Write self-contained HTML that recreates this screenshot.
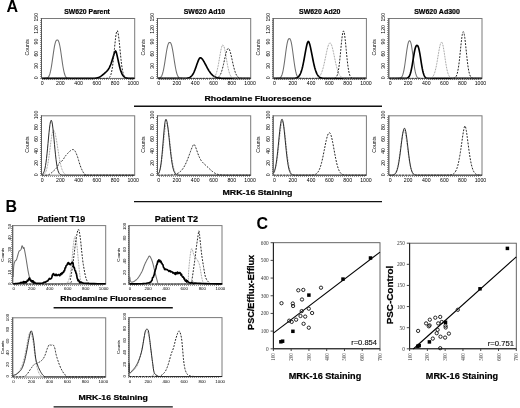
<!DOCTYPE html>
<html><head><meta charset="utf-8"><style>
html,body{margin:0;padding:0;background:#fff;width:520px;height:408px;overflow:hidden}
svg{position:absolute;left:0;top:0;font-family:"Liberation Sans", sans-serif;will-change:transform}
</style></head><body>
<svg width="520" height="408" viewBox="0 0 520 408">
<text x="12.20" y="12.40" font-size="16" font-weight="bold" text-anchor="middle" fill="#000">A</text>
<text x="11.30" y="212.00" font-size="16" font-weight="bold" text-anchor="middle" fill="#000">B</text>
<text x="262.40" y="228.90" font-size="16" font-weight="bold" text-anchor="middle" fill="#000">C</text>
<rect x="41.50" y="18.50" width="93.20" height="59.90" fill="none" stroke="#7a7a7a" stroke-width="1.0"/>
<line x1="41.50" y1="18.00" x2="41.50" y2="78.40" stroke="#555" stroke-width="0.9"/>
<line x1="40.50" y1="79.00" x2="40.50" y2="18.50" stroke="#333" stroke-width="1.0" stroke-dasharray="1 1" opacity="0.5"/>
<line x1="42.00" y1="79.50" x2="133.20" y2="79.50" stroke="#333" stroke-width="1" stroke-dasharray="1 1" opacity="0.5"/>
<text x="35.90" y="77.90" font-size="5.2" font-weight="normal" text-anchor="middle" fill="#000" transform="rotate(-90 35.9 77.9)" dominant-baseline="central">0</text>
<text x="35.90" y="65.76" font-size="5.2" font-weight="normal" text-anchor="middle" fill="#000" transform="rotate(-90 35.9 65.76)" dominant-baseline="central">30</text>
<text x="35.90" y="53.62" font-size="5.2" font-weight="normal" text-anchor="middle" fill="#000" transform="rotate(-90 35.9 53.620000000000005)" dominant-baseline="central">60</text>
<text x="35.90" y="41.48" font-size="5.2" font-weight="normal" text-anchor="middle" fill="#000" transform="rotate(-90 35.9 41.480000000000004)" dominant-baseline="central">90</text>
<text x="35.90" y="29.34" font-size="5.2" font-weight="normal" text-anchor="middle" fill="#000" transform="rotate(-90 35.9 29.340000000000003)" dominant-baseline="central">120</text>
<text x="35.90" y="17.20" font-size="5.2" font-weight="normal" text-anchor="middle" fill="#000" transform="rotate(-90 35.9 17.200000000000003)" dominant-baseline="central">150</text>
<text x="42.20" y="82.90" font-size="5.2" font-weight="normal" text-anchor="middle" fill="#000" dominant-baseline="central">0</text>
<text x="60.40" y="82.90" font-size="5.2" font-weight="normal" text-anchor="middle" fill="#000" dominant-baseline="central">200</text>
<text x="78.60" y="82.90" font-size="5.2" font-weight="normal" text-anchor="middle" fill="#000" dominant-baseline="central">400</text>
<text x="96.80" y="82.90" font-size="5.2" font-weight="normal" text-anchor="middle" fill="#000" dominant-baseline="central">600</text>
<text x="115.00" y="82.90" font-size="5.2" font-weight="normal" text-anchor="middle" fill="#000" dominant-baseline="central">800</text>
<text x="133.20" y="82.90" font-size="5.2" font-weight="normal" text-anchor="middle" fill="#000" dominant-baseline="central">1000</text>
<text x="26.50" y="47.25" font-size="5.2" font-weight="normal" text-anchor="middle" fill="#000" transform="rotate(-90 26.5 47.25)" dominant-baseline="central">Counts</text>
<text x="87.05" y="13.80" font-size="7" font-weight="bold" text-anchor="middle" fill="#000" textLength="45.7" lengthAdjust="spacingAndGlyphs" stroke="#000" stroke-width="0.22">SW620 Parent</text>
<rect x="41.50" y="115.80" width="93.20" height="59.40" fill="none" stroke="#7a7a7a" stroke-width="1.0"/>
<line x1="41.50" y1="115.30" x2="41.50" y2="175.20" stroke="#555" stroke-width="0.9"/>
<line x1="40.50" y1="176.00" x2="40.50" y2="115.80" stroke="#333" stroke-width="1.0" stroke-dasharray="1 1" opacity="0.5"/>
<line x1="42.00" y1="176.50" x2="133.20" y2="176.50" stroke="#333" stroke-width="1" stroke-dasharray="1 1" opacity="0.5"/>
<text x="35.90" y="174.90" font-size="5.2" font-weight="normal" text-anchor="middle" fill="#000" transform="rotate(-90 35.9 174.9)" dominant-baseline="central">0</text>
<text x="35.90" y="162.92" font-size="5.2" font-weight="normal" text-anchor="middle" fill="#000" transform="rotate(-90 35.9 162.92000000000002)" dominant-baseline="central">20</text>
<text x="35.90" y="150.94" font-size="5.2" font-weight="normal" text-anchor="middle" fill="#000" transform="rotate(-90 35.9 150.94)" dominant-baseline="central">40</text>
<text x="35.90" y="138.96" font-size="5.2" font-weight="normal" text-anchor="middle" fill="#000" transform="rotate(-90 35.9 138.96)" dominant-baseline="central">60</text>
<text x="35.90" y="126.98" font-size="5.2" font-weight="normal" text-anchor="middle" fill="#000" transform="rotate(-90 35.9 126.98)" dominant-baseline="central">80</text>
<text x="35.90" y="115.00" font-size="5.2" font-weight="normal" text-anchor="middle" fill="#000" transform="rotate(-90 35.9 115.0)" dominant-baseline="central">100</text>
<text x="42.20" y="179.70" font-size="5.2" font-weight="normal" text-anchor="middle" fill="#000" dominant-baseline="central">0</text>
<text x="60.40" y="179.70" font-size="5.2" font-weight="normal" text-anchor="middle" fill="#000" dominant-baseline="central">200</text>
<text x="78.60" y="179.70" font-size="5.2" font-weight="normal" text-anchor="middle" fill="#000" dominant-baseline="central">400</text>
<text x="96.80" y="179.70" font-size="5.2" font-weight="normal" text-anchor="middle" fill="#000" dominant-baseline="central">600</text>
<text x="115.00" y="179.70" font-size="5.2" font-weight="normal" text-anchor="middle" fill="#000" dominant-baseline="central">800</text>
<text x="133.20" y="179.70" font-size="5.2" font-weight="normal" text-anchor="middle" fill="#000" dominant-baseline="central">1000</text>
<text x="26.50" y="144.50" font-size="5.2" font-weight="normal" text-anchor="middle" fill="#000" transform="rotate(-90 26.5 144.5)" dominant-baseline="central">Counts</text>
<rect x="157.50" y="18.50" width="93.20" height="59.90" fill="none" stroke="#7a7a7a" stroke-width="1.0"/>
<line x1="157.50" y1="18.00" x2="157.50" y2="78.40" stroke="#555" stroke-width="0.9"/>
<line x1="156.50" y1="79.00" x2="156.50" y2="18.50" stroke="#333" stroke-width="1.0" stroke-dasharray="1 1" opacity="0.5"/>
<line x1="159.00" y1="79.50" x2="250.10" y2="79.50" stroke="#333" stroke-width="1" stroke-dasharray="1 1" opacity="0.5"/>
<text x="151.90" y="77.90" font-size="5.2" font-weight="normal" text-anchor="middle" fill="#000" transform="rotate(-90 151.9 77.9)" dominant-baseline="central">0</text>
<text x="151.90" y="65.76" font-size="5.2" font-weight="normal" text-anchor="middle" fill="#000" transform="rotate(-90 151.9 65.76)" dominant-baseline="central">30</text>
<text x="151.90" y="53.62" font-size="5.2" font-weight="normal" text-anchor="middle" fill="#000" transform="rotate(-90 151.9 53.620000000000005)" dominant-baseline="central">60</text>
<text x="151.90" y="41.48" font-size="5.2" font-weight="normal" text-anchor="middle" fill="#000" transform="rotate(-90 151.9 41.480000000000004)" dominant-baseline="central">90</text>
<text x="151.90" y="29.34" font-size="5.2" font-weight="normal" text-anchor="middle" fill="#000" transform="rotate(-90 151.9 29.340000000000003)" dominant-baseline="central">120</text>
<text x="151.90" y="17.20" font-size="5.2" font-weight="normal" text-anchor="middle" fill="#000" transform="rotate(-90 151.9 17.200000000000003)" dominant-baseline="central">150</text>
<text x="158.60" y="82.90" font-size="5.2" font-weight="normal" text-anchor="middle" fill="#000" dominant-baseline="central">0</text>
<text x="176.90" y="82.90" font-size="5.2" font-weight="normal" text-anchor="middle" fill="#000" dominant-baseline="central">200</text>
<text x="195.20" y="82.90" font-size="5.2" font-weight="normal" text-anchor="middle" fill="#000" dominant-baseline="central">400</text>
<text x="213.50" y="82.90" font-size="5.2" font-weight="normal" text-anchor="middle" fill="#000" dominant-baseline="central">600</text>
<text x="231.80" y="82.90" font-size="5.2" font-weight="normal" text-anchor="middle" fill="#000" dominant-baseline="central">800</text>
<text x="250.10" y="82.90" font-size="5.2" font-weight="normal" text-anchor="middle" fill="#000" dominant-baseline="central">1000</text>
<text x="142.50" y="47.25" font-size="5.2" font-weight="normal" text-anchor="middle" fill="#000" transform="rotate(-90 142.5 47.25)" dominant-baseline="central">Counts</text>
<text x="204.45" y="13.80" font-size="7" font-weight="bold" text-anchor="middle" fill="#000" textLength="41.5" lengthAdjust="spacingAndGlyphs" stroke="#000" stroke-width="0.22">SW620 Ad10</text>
<rect x="157.50" y="115.80" width="93.20" height="59.40" fill="none" stroke="#7a7a7a" stroke-width="1.0"/>
<line x1="157.50" y1="115.30" x2="157.50" y2="175.20" stroke="#555" stroke-width="0.9"/>
<line x1="156.50" y1="176.00" x2="156.50" y2="115.80" stroke="#333" stroke-width="1.0" stroke-dasharray="1 1" opacity="0.5"/>
<line x1="159.00" y1="176.50" x2="250.10" y2="176.50" stroke="#333" stroke-width="1" stroke-dasharray="1 1" opacity="0.5"/>
<text x="151.90" y="174.90" font-size="5.2" font-weight="normal" text-anchor="middle" fill="#000" transform="rotate(-90 151.9 174.9)" dominant-baseline="central">0</text>
<text x="151.90" y="162.92" font-size="5.2" font-weight="normal" text-anchor="middle" fill="#000" transform="rotate(-90 151.9 162.92000000000002)" dominant-baseline="central">20</text>
<text x="151.90" y="150.94" font-size="5.2" font-weight="normal" text-anchor="middle" fill="#000" transform="rotate(-90 151.9 150.94)" dominant-baseline="central">40</text>
<text x="151.90" y="138.96" font-size="5.2" font-weight="normal" text-anchor="middle" fill="#000" transform="rotate(-90 151.9 138.96)" dominant-baseline="central">60</text>
<text x="151.90" y="126.98" font-size="5.2" font-weight="normal" text-anchor="middle" fill="#000" transform="rotate(-90 151.9 126.98)" dominant-baseline="central">80</text>
<text x="151.90" y="115.00" font-size="5.2" font-weight="normal" text-anchor="middle" fill="#000" transform="rotate(-90 151.9 115.0)" dominant-baseline="central">100</text>
<text x="158.60" y="179.70" font-size="5.2" font-weight="normal" text-anchor="middle" fill="#000" dominant-baseline="central">0</text>
<text x="176.90" y="179.70" font-size="5.2" font-weight="normal" text-anchor="middle" fill="#000" dominant-baseline="central">200</text>
<text x="195.20" y="179.70" font-size="5.2" font-weight="normal" text-anchor="middle" fill="#000" dominant-baseline="central">400</text>
<text x="213.50" y="179.70" font-size="5.2" font-weight="normal" text-anchor="middle" fill="#000" dominant-baseline="central">600</text>
<text x="231.80" y="179.70" font-size="5.2" font-weight="normal" text-anchor="middle" fill="#000" dominant-baseline="central">800</text>
<text x="250.10" y="179.70" font-size="5.2" font-weight="normal" text-anchor="middle" fill="#000" dominant-baseline="central">1000</text>
<text x="142.50" y="144.50" font-size="5.2" font-weight="normal" text-anchor="middle" fill="#000" transform="rotate(-90 142.5 144.5)" dominant-baseline="central">Counts</text>
<rect x="273.20" y="18.50" width="93.20" height="59.90" fill="none" stroke="#7a7a7a" stroke-width="1.0"/>
<line x1="273.20" y1="18.00" x2="273.20" y2="78.40" stroke="#555" stroke-width="0.9"/>
<line x1="272.50" y1="79.00" x2="272.50" y2="18.50" stroke="#333" stroke-width="1.0" stroke-dasharray="1 1" opacity="0.5"/>
<line x1="274.00" y1="79.50" x2="366.00" y2="79.50" stroke="#333" stroke-width="1" stroke-dasharray="1 1" opacity="0.5"/>
<text x="267.60" y="77.90" font-size="5.2" font-weight="normal" text-anchor="middle" fill="#000" transform="rotate(-90 267.59999999999997 77.9)" dominant-baseline="central">0</text>
<text x="267.60" y="65.76" font-size="5.2" font-weight="normal" text-anchor="middle" fill="#000" transform="rotate(-90 267.59999999999997 65.76)" dominant-baseline="central">30</text>
<text x="267.60" y="53.62" font-size="5.2" font-weight="normal" text-anchor="middle" fill="#000" transform="rotate(-90 267.59999999999997 53.620000000000005)" dominant-baseline="central">60</text>
<text x="267.60" y="41.48" font-size="5.2" font-weight="normal" text-anchor="middle" fill="#000" transform="rotate(-90 267.59999999999997 41.480000000000004)" dominant-baseline="central">90</text>
<text x="267.60" y="29.34" font-size="5.2" font-weight="normal" text-anchor="middle" fill="#000" transform="rotate(-90 267.59999999999997 29.340000000000003)" dominant-baseline="central">120</text>
<text x="267.60" y="17.20" font-size="5.2" font-weight="normal" text-anchor="middle" fill="#000" transform="rotate(-90 267.59999999999997 17.200000000000003)" dominant-baseline="central">150</text>
<text x="274.50" y="82.90" font-size="5.2" font-weight="normal" text-anchor="middle" fill="#000" dominant-baseline="central">0</text>
<text x="292.80" y="82.90" font-size="5.2" font-weight="normal" text-anchor="middle" fill="#000" dominant-baseline="central">200</text>
<text x="311.10" y="82.90" font-size="5.2" font-weight="normal" text-anchor="middle" fill="#000" dominant-baseline="central">400</text>
<text x="329.40" y="82.90" font-size="5.2" font-weight="normal" text-anchor="middle" fill="#000" dominant-baseline="central">600</text>
<text x="347.70" y="82.90" font-size="5.2" font-weight="normal" text-anchor="middle" fill="#000" dominant-baseline="central">800</text>
<text x="366.00" y="82.90" font-size="5.2" font-weight="normal" text-anchor="middle" fill="#000" dominant-baseline="central">1000</text>
<text x="258.20" y="47.25" font-size="5.2" font-weight="normal" text-anchor="middle" fill="#000" transform="rotate(-90 258.2 47.25)" dominant-baseline="central">Counts</text>
<text x="319.75" y="13.80" font-size="7" font-weight="bold" text-anchor="middle" fill="#000" textLength="41.5" lengthAdjust="spacingAndGlyphs" stroke="#000" stroke-width="0.22">SW620 Ad20</text>
<rect x="273.20" y="115.80" width="93.20" height="59.40" fill="none" stroke="#7a7a7a" stroke-width="1.0"/>
<line x1="273.20" y1="115.30" x2="273.20" y2="175.20" stroke="#555" stroke-width="0.9"/>
<line x1="272.50" y1="176.00" x2="272.50" y2="115.80" stroke="#333" stroke-width="1.0" stroke-dasharray="1 1" opacity="0.5"/>
<line x1="274.00" y1="176.50" x2="366.00" y2="176.50" stroke="#333" stroke-width="1" stroke-dasharray="1 1" opacity="0.5"/>
<text x="267.60" y="174.90" font-size="5.2" font-weight="normal" text-anchor="middle" fill="#000" transform="rotate(-90 267.59999999999997 174.9)" dominant-baseline="central">0</text>
<text x="267.60" y="162.92" font-size="5.2" font-weight="normal" text-anchor="middle" fill="#000" transform="rotate(-90 267.59999999999997 162.92000000000002)" dominant-baseline="central">20</text>
<text x="267.60" y="150.94" font-size="5.2" font-weight="normal" text-anchor="middle" fill="#000" transform="rotate(-90 267.59999999999997 150.94)" dominant-baseline="central">40</text>
<text x="267.60" y="138.96" font-size="5.2" font-weight="normal" text-anchor="middle" fill="#000" transform="rotate(-90 267.59999999999997 138.96)" dominant-baseline="central">60</text>
<text x="267.60" y="126.98" font-size="5.2" font-weight="normal" text-anchor="middle" fill="#000" transform="rotate(-90 267.59999999999997 126.98)" dominant-baseline="central">80</text>
<text x="267.60" y="115.00" font-size="5.2" font-weight="normal" text-anchor="middle" fill="#000" transform="rotate(-90 267.59999999999997 115.0)" dominant-baseline="central">100</text>
<text x="274.50" y="179.70" font-size="5.2" font-weight="normal" text-anchor="middle" fill="#000" dominant-baseline="central">0</text>
<text x="292.80" y="179.70" font-size="5.2" font-weight="normal" text-anchor="middle" fill="#000" dominant-baseline="central">200</text>
<text x="311.10" y="179.70" font-size="5.2" font-weight="normal" text-anchor="middle" fill="#000" dominant-baseline="central">400</text>
<text x="329.40" y="179.70" font-size="5.2" font-weight="normal" text-anchor="middle" fill="#000" dominant-baseline="central">600</text>
<text x="347.70" y="179.70" font-size="5.2" font-weight="normal" text-anchor="middle" fill="#000" dominant-baseline="central">800</text>
<text x="366.00" y="179.70" font-size="5.2" font-weight="normal" text-anchor="middle" fill="#000" dominant-baseline="central">1000</text>
<text x="258.20" y="144.50" font-size="5.2" font-weight="normal" text-anchor="middle" fill="#000" transform="rotate(-90 258.2 144.5)" dominant-baseline="central">Counts</text>
<rect x="388.80" y="18.50" width="93.20" height="59.90" fill="none" stroke="#7a7a7a" stroke-width="1.0"/>
<line x1="388.80" y1="18.00" x2="388.80" y2="78.40" stroke="#555" stroke-width="0.9"/>
<line x1="387.50" y1="79.00" x2="387.50" y2="18.50" stroke="#333" stroke-width="1.0" stroke-dasharray="1 1" opacity="0.5"/>
<line x1="390.00" y1="79.50" x2="480.50" y2="79.50" stroke="#333" stroke-width="1" stroke-dasharray="1 1" opacity="0.5"/>
<text x="383.20" y="77.90" font-size="5.2" font-weight="normal" text-anchor="middle" fill="#000" transform="rotate(-90 383.2 77.9)" dominant-baseline="central">0</text>
<text x="383.20" y="65.76" font-size="5.2" font-weight="normal" text-anchor="middle" fill="#000" transform="rotate(-90 383.2 65.76)" dominant-baseline="central">30</text>
<text x="383.20" y="53.62" font-size="5.2" font-weight="normal" text-anchor="middle" fill="#000" transform="rotate(-90 383.2 53.620000000000005)" dominant-baseline="central">60</text>
<text x="383.20" y="41.48" font-size="5.2" font-weight="normal" text-anchor="middle" fill="#000" transform="rotate(-90 383.2 41.480000000000004)" dominant-baseline="central">90</text>
<text x="383.20" y="29.34" font-size="5.2" font-weight="normal" text-anchor="middle" fill="#000" transform="rotate(-90 383.2 29.340000000000003)" dominant-baseline="central">120</text>
<text x="383.20" y="17.20" font-size="5.2" font-weight="normal" text-anchor="middle" fill="#000" transform="rotate(-90 383.2 17.200000000000003)" dominant-baseline="central">150</text>
<text x="390.10" y="82.90" font-size="5.2" font-weight="normal" text-anchor="middle" fill="#000" dominant-baseline="central">0</text>
<text x="408.18" y="82.90" font-size="5.2" font-weight="normal" text-anchor="middle" fill="#000" dominant-baseline="central">200</text>
<text x="426.26" y="82.90" font-size="5.2" font-weight="normal" text-anchor="middle" fill="#000" dominant-baseline="central">400</text>
<text x="444.34" y="82.90" font-size="5.2" font-weight="normal" text-anchor="middle" fill="#000" dominant-baseline="central">600</text>
<text x="462.42" y="82.90" font-size="5.2" font-weight="normal" text-anchor="middle" fill="#000" dominant-baseline="central">800</text>
<text x="480.50" y="82.90" font-size="5.2" font-weight="normal" text-anchor="middle" fill="#000" dominant-baseline="central">1000</text>
<text x="373.80" y="47.25" font-size="5.2" font-weight="normal" text-anchor="middle" fill="#000" transform="rotate(-90 373.8 47.25)" dominant-baseline="central">Counts</text>
<text x="437.05" y="13.80" font-size="7" font-weight="bold" text-anchor="middle" fill="#000" textLength="45.7" lengthAdjust="spacingAndGlyphs" stroke="#000" stroke-width="0.22">SW620 Ad300</text>
<rect x="388.80" y="115.80" width="93.20" height="59.40" fill="none" stroke="#7a7a7a" stroke-width="1.0"/>
<line x1="388.80" y1="115.30" x2="388.80" y2="175.20" stroke="#555" stroke-width="0.9"/>
<line x1="387.50" y1="176.00" x2="387.50" y2="115.80" stroke="#333" stroke-width="1.0" stroke-dasharray="1 1" opacity="0.5"/>
<line x1="390.00" y1="176.50" x2="480.50" y2="176.50" stroke="#333" stroke-width="1" stroke-dasharray="1 1" opacity="0.5"/>
<text x="383.20" y="174.90" font-size="5.2" font-weight="normal" text-anchor="middle" fill="#000" transform="rotate(-90 383.2 174.9)" dominant-baseline="central">0</text>
<text x="383.20" y="162.92" font-size="5.2" font-weight="normal" text-anchor="middle" fill="#000" transform="rotate(-90 383.2 162.92000000000002)" dominant-baseline="central">20</text>
<text x="383.20" y="150.94" font-size="5.2" font-weight="normal" text-anchor="middle" fill="#000" transform="rotate(-90 383.2 150.94)" dominant-baseline="central">40</text>
<text x="383.20" y="138.96" font-size="5.2" font-weight="normal" text-anchor="middle" fill="#000" transform="rotate(-90 383.2 138.96)" dominant-baseline="central">60</text>
<text x="383.20" y="126.98" font-size="5.2" font-weight="normal" text-anchor="middle" fill="#000" transform="rotate(-90 383.2 126.98)" dominant-baseline="central">80</text>
<text x="383.20" y="115.00" font-size="5.2" font-weight="normal" text-anchor="middle" fill="#000" transform="rotate(-90 383.2 115.0)" dominant-baseline="central">100</text>
<text x="390.10" y="179.70" font-size="5.2" font-weight="normal" text-anchor="middle" fill="#000" dominant-baseline="central">0</text>
<text x="408.18" y="179.70" font-size="5.2" font-weight="normal" text-anchor="middle" fill="#000" dominant-baseline="central">200</text>
<text x="426.26" y="179.70" font-size="5.2" font-weight="normal" text-anchor="middle" fill="#000" dominant-baseline="central">400</text>
<text x="444.34" y="179.70" font-size="5.2" font-weight="normal" text-anchor="middle" fill="#000" dominant-baseline="central">600</text>
<text x="462.42" y="179.70" font-size="5.2" font-weight="normal" text-anchor="middle" fill="#000" dominant-baseline="central">800</text>
<text x="480.50" y="179.70" font-size="5.2" font-weight="normal" text-anchor="middle" fill="#000" dominant-baseline="central">1000</text>
<text x="373.80" y="144.50" font-size="5.2" font-weight="normal" text-anchor="middle" fill="#000" transform="rotate(-90 373.8 144.5)" dominant-baseline="central">Counts</text>
<text x="258.00" y="100.90" font-size="7.7" font-weight="bold" text-anchor="middle" fill="#000" textLength="107" lengthAdjust="spacingAndGlyphs" stroke="#000" stroke-width="0.22">Rhodamine Fluorescence</text>
<line x1="134.00" y1="106.20" x2="382.00" y2="106.20" stroke="#111" stroke-width="1.4"/>
<text x="257.50" y="195.40" font-size="7.8" font-weight="bold" text-anchor="middle" fill="#000" textLength="70" lengthAdjust="spacingAndGlyphs" stroke="#000" stroke-width="0.22">MRK-16 Staining</text>
<line x1="134.00" y1="201.60" x2="382.00" y2="201.60" stroke="#111" stroke-width="1.3"/>
<rect x="12.70" y="225.60" width="93.00" height="58.40" fill="none" stroke="#7a7a7a" stroke-width="1.0"/>
<line x1="12.70" y1="225.10" x2="12.70" y2="284.00" stroke="#555" stroke-width="0.9"/>
<line x1="11.50" y1="285.00" x2="11.50" y2="225.60" stroke="#333" stroke-width="1.0" stroke-dasharray="1 1" opacity="0.5"/>
<line x1="14.00" y1="285.50" x2="103.70" y2="285.50" stroke="#333" stroke-width="1" stroke-dasharray="1 1" opacity="0.5"/>
<text x="9.10" y="283.80" font-size="4.4" font-weight="normal" text-anchor="middle" fill="#000" transform="rotate(-90 9.1 283.8)" dominant-baseline="central">0</text>
<text x="9.10" y="272.28" font-size="4.4" font-weight="normal" text-anchor="middle" fill="#000" transform="rotate(-90 9.1 272.28000000000003)" dominant-baseline="central">10</text>
<text x="9.10" y="260.76" font-size="4.4" font-weight="normal" text-anchor="middle" fill="#000" transform="rotate(-90 9.1 260.76)" dominant-baseline="central">20</text>
<text x="9.10" y="249.24" font-size="4.4" font-weight="normal" text-anchor="middle" fill="#000" transform="rotate(-90 9.1 249.24)" dominant-baseline="central">30</text>
<text x="9.10" y="237.72" font-size="4.4" font-weight="normal" text-anchor="middle" fill="#000" transform="rotate(-90 9.1 237.72)" dominant-baseline="central">40</text>
<text x="9.10" y="226.20" font-size="4.4" font-weight="normal" text-anchor="middle" fill="#000" transform="rotate(-90 9.1 226.2)" dominant-baseline="central">50</text>
<text x="13.70" y="288.60" font-size="4.4" font-weight="normal" text-anchor="middle" fill="#000" dominant-baseline="central">0</text>
<text x="31.70" y="288.60" font-size="4.4" font-weight="normal" text-anchor="middle" fill="#000" dominant-baseline="central">200</text>
<text x="49.70" y="288.60" font-size="4.4" font-weight="normal" text-anchor="middle" fill="#000" dominant-baseline="central">400</text>
<text x="67.70" y="288.60" font-size="4.4" font-weight="normal" text-anchor="middle" fill="#000" dominant-baseline="central">600</text>
<text x="85.70" y="288.60" font-size="4.4" font-weight="normal" text-anchor="middle" fill="#000" dominant-baseline="central">800</text>
<text x="103.70" y="288.60" font-size="4.4" font-weight="normal" text-anchor="middle" fill="#000" dominant-baseline="central">1000</text>
<text x="2.40" y="254.80" font-size="4.4" font-weight="normal" text-anchor="middle" fill="#000" transform="rotate(-90 2.3999999999999986 254.8)" dominant-baseline="central">Counts</text>
<rect x="129.00" y="225.60" width="93.00" height="58.40" fill="none" stroke="#7a7a7a" stroke-width="1.0"/>
<line x1="129.00" y1="225.10" x2="129.00" y2="284.00" stroke="#555" stroke-width="0.9"/>
<line x1="128.50" y1="285.00" x2="128.50" y2="225.60" stroke="#333" stroke-width="1.0" stroke-dasharray="1 1" opacity="0.5"/>
<line x1="130.00" y1="285.50" x2="220.40" y2="285.50" stroke="#333" stroke-width="1" stroke-dasharray="1 1" opacity="0.5"/>
<text x="124.80" y="284.00" font-size="4.4" font-weight="normal" text-anchor="middle" fill="#000" transform="rotate(-90 124.8 284.0)" dominant-baseline="central">0</text>
<text x="124.80" y="272.48" font-size="4.4" font-weight="normal" text-anchor="middle" fill="#000" transform="rotate(-90 124.8 272.48)" dominant-baseline="central">20</text>
<text x="124.80" y="260.96" font-size="4.4" font-weight="normal" text-anchor="middle" fill="#000" transform="rotate(-90 124.8 260.96)" dominant-baseline="central">40</text>
<text x="124.80" y="249.44" font-size="4.4" font-weight="normal" text-anchor="middle" fill="#000" transform="rotate(-90 124.8 249.44)" dominant-baseline="central">60</text>
<text x="124.80" y="237.92" font-size="4.4" font-weight="normal" text-anchor="middle" fill="#000" transform="rotate(-90 124.8 237.92000000000002)" dominant-baseline="central">80</text>
<text x="124.80" y="226.40" font-size="4.4" font-weight="normal" text-anchor="middle" fill="#000" transform="rotate(-90 124.8 226.4)" dominant-baseline="central">100</text>
<text x="130.00" y="288.60" font-size="4.4" font-weight="normal" text-anchor="middle" fill="#000" dominant-baseline="central">0</text>
<text x="148.08" y="288.60" font-size="4.4" font-weight="normal" text-anchor="middle" fill="#000" dominant-baseline="central">200</text>
<text x="166.16" y="288.60" font-size="4.4" font-weight="normal" text-anchor="middle" fill="#000" dominant-baseline="central">400</text>
<text x="184.24" y="288.60" font-size="4.4" font-weight="normal" text-anchor="middle" fill="#000" dominant-baseline="central">600</text>
<text x="202.32" y="288.60" font-size="4.4" font-weight="normal" text-anchor="middle" fill="#000" dominant-baseline="central">800</text>
<text x="220.40" y="288.60" font-size="4.4" font-weight="normal" text-anchor="middle" fill="#000" dominant-baseline="central">1000</text>
<text x="118.70" y="254.80" font-size="4.4" font-weight="normal" text-anchor="middle" fill="#000" transform="rotate(-90 118.7 254.8)" dominant-baseline="central">Counts</text>
<text x="61.30" y="222.40" font-size="9.3" font-weight="bold" text-anchor="middle" fill="#000" textLength="47.8" lengthAdjust="spacingAndGlyphs" stroke="#000" stroke-width="0.22">Patient T19</text>
<text x="176.40" y="222.40" font-size="9.3" font-weight="bold" text-anchor="middle" fill="#000" textLength="43.1" lengthAdjust="spacingAndGlyphs" stroke="#000" stroke-width="0.22">Patient T2</text>
<text x="113.20" y="300.90" font-size="7.9" font-weight="bold" text-anchor="middle" fill="#000" textLength="106.1" lengthAdjust="spacingAndGlyphs" stroke="#000" stroke-width="0.22">Rhodamine Fluorescence</text>
<line x1="53.60" y1="307.70" x2="172.80" y2="307.70" stroke="#111" stroke-width="1.4"/>
<rect x="12.70" y="317.80" width="93.00" height="59.20" fill="none" stroke="#7a7a7a" stroke-width="1.0"/>
<line x1="12.70" y1="317.30" x2="12.70" y2="377.00" stroke="#555" stroke-width="0.9"/>
<line x1="11.50" y1="378.00" x2="11.50" y2="317.80" stroke="#333" stroke-width="1.0" stroke-dasharray="1 1" opacity="0.5"/>
<line x1="14.00" y1="378.50" x2="103.30" y2="378.50" stroke="#333" stroke-width="1" stroke-dasharray="1 1" opacity="0.5"/>
<text x="7.10" y="376.30" font-size="4.4" font-weight="normal" text-anchor="middle" fill="#000" transform="rotate(-90 7.1 376.3)" dominant-baseline="central">0</text>
<text x="7.10" y="364.54" font-size="4.4" font-weight="normal" text-anchor="middle" fill="#000" transform="rotate(-90 7.1 364.54)" dominant-baseline="central">20</text>
<text x="7.10" y="352.78" font-size="4.4" font-weight="normal" text-anchor="middle" fill="#000" transform="rotate(-90 7.1 352.78000000000003)" dominant-baseline="central">40</text>
<text x="7.10" y="341.02" font-size="4.4" font-weight="normal" text-anchor="middle" fill="#000" transform="rotate(-90 7.1 341.02)" dominant-baseline="central">60</text>
<text x="7.10" y="329.26" font-size="4.4" font-weight="normal" text-anchor="middle" fill="#000" transform="rotate(-90 7.1 329.26)" dominant-baseline="central">80</text>
<text x="7.10" y="317.50" font-size="4.4" font-weight="normal" text-anchor="middle" fill="#000" transform="rotate(-90 7.1 317.5)" dominant-baseline="central">100</text>
<text x="13.50" y="381.60" font-size="4.4" font-weight="normal" text-anchor="middle" fill="#000" dominant-baseline="central">0</text>
<text x="31.46" y="381.60" font-size="4.4" font-weight="normal" text-anchor="middle" fill="#000" dominant-baseline="central">200</text>
<text x="49.42" y="381.60" font-size="4.4" font-weight="normal" text-anchor="middle" fill="#000" dominant-baseline="central">400</text>
<text x="67.38" y="381.60" font-size="4.4" font-weight="normal" text-anchor="middle" fill="#000" dominant-baseline="central">600</text>
<text x="85.34" y="381.60" font-size="4.4" font-weight="normal" text-anchor="middle" fill="#000" dominant-baseline="central">800</text>
<text x="103.30" y="381.60" font-size="4.4" font-weight="normal" text-anchor="middle" fill="#000" dominant-baseline="central">1000</text>
<text x="2.40" y="347.40" font-size="4.4" font-weight="normal" text-anchor="middle" fill="#000" transform="rotate(-90 2.3999999999999986 347.4)" dominant-baseline="central">Counts</text>
<rect x="129.00" y="317.60" width="93.00" height="59.00" fill="none" stroke="#7a7a7a" stroke-width="1.0"/>
<line x1="129.00" y1="317.10" x2="129.00" y2="376.60" stroke="#555" stroke-width="0.9"/>
<line x1="128.50" y1="378.00" x2="128.50" y2="317.60" stroke="#333" stroke-width="1.0" stroke-dasharray="1 1" opacity="0.5"/>
<line x1="130.00" y1="377.50" x2="220.20" y2="377.50" stroke="#333" stroke-width="1" stroke-dasharray="1 1" opacity="0.5"/>
<text x="124.40" y="376.20" font-size="4.4" font-weight="normal" text-anchor="middle" fill="#000" transform="rotate(-90 124.4 376.2)" dominant-baseline="central">0</text>
<text x="124.40" y="364.26" font-size="4.4" font-weight="normal" text-anchor="middle" fill="#000" transform="rotate(-90 124.4 364.26)" dominant-baseline="central">20</text>
<text x="124.40" y="352.32" font-size="4.4" font-weight="normal" text-anchor="middle" fill="#000" transform="rotate(-90 124.4 352.32)" dominant-baseline="central">40</text>
<text x="124.40" y="340.38" font-size="4.4" font-weight="normal" text-anchor="middle" fill="#000" transform="rotate(-90 124.4 340.38)" dominant-baseline="central">60</text>
<text x="124.40" y="328.44" font-size="4.4" font-weight="normal" text-anchor="middle" fill="#000" transform="rotate(-90 124.4 328.44)" dominant-baseline="central">80</text>
<text x="124.40" y="316.50" font-size="4.4" font-weight="normal" text-anchor="middle" fill="#000" transform="rotate(-90 124.4 316.5)" dominant-baseline="central">100</text>
<text x="130.00" y="381.20" font-size="4.4" font-weight="normal" text-anchor="middle" fill="#000" dominant-baseline="central">0</text>
<text x="148.04" y="381.20" font-size="4.4" font-weight="normal" text-anchor="middle" fill="#000" dominant-baseline="central">200</text>
<text x="166.08" y="381.20" font-size="4.4" font-weight="normal" text-anchor="middle" fill="#000" dominant-baseline="central">400</text>
<text x="184.12" y="381.20" font-size="4.4" font-weight="normal" text-anchor="middle" fill="#000" dominant-baseline="central">600</text>
<text x="202.16" y="381.20" font-size="4.4" font-weight="normal" text-anchor="middle" fill="#000" dominant-baseline="central">800</text>
<text x="220.20" y="381.20" font-size="4.4" font-weight="normal" text-anchor="middle" fill="#000" dominant-baseline="central">1000</text>
<text x="118.70" y="347.10" font-size="4.4" font-weight="normal" text-anchor="middle" fill="#000" transform="rotate(-90 118.7 347.1)" dominant-baseline="central">Counts</text>
<text x="113.20" y="399.70" font-size="7.8" font-weight="bold" text-anchor="middle" fill="#000" textLength="69.3" lengthAdjust="spacingAndGlyphs" stroke="#000" stroke-width="0.22">MRK-16 Staining</text>
<line x1="53.60" y1="406.90" x2="172.80" y2="406.90" stroke="#111" stroke-width="1.4"/>
<rect x="273.40" y="242.70" width="106.60" height="106.10" fill="none" stroke="#555" stroke-width="0.9"/>
<line x1="273.40" y1="242.70" x2="273.40" y2="348.80" stroke="#222" stroke-width="1.1"/>
<line x1="273.40" y1="348.80" x2="380.00" y2="348.80" stroke="#222" stroke-width="1.1"/>
<line x1="270.60" y1="348.80" x2="273.40" y2="348.80" stroke="#333" stroke-width="0.9"/>
<text x="268.70" y="348.80" font-size="5.3" font-weight="normal" text-anchor="end" fill="#333" dominant-baseline="central" font-family="Liberation Serif">0</text>
<line x1="270.60" y1="331.12" x2="273.40" y2="331.12" stroke="#333" stroke-width="0.9"/>
<text x="268.70" y="331.12" font-size="5.3" font-weight="normal" text-anchor="end" fill="#333" dominant-baseline="central" font-family="Liberation Serif">100</text>
<line x1="270.60" y1="313.43" x2="273.40" y2="313.43" stroke="#333" stroke-width="0.9"/>
<text x="268.70" y="313.43" font-size="5.3" font-weight="normal" text-anchor="end" fill="#333" dominant-baseline="central" font-family="Liberation Serif">200</text>
<line x1="270.60" y1="295.75" x2="273.40" y2="295.75" stroke="#333" stroke-width="0.9"/>
<text x="268.70" y="295.75" font-size="5.3" font-weight="normal" text-anchor="end" fill="#333" dominant-baseline="central" font-family="Liberation Serif">300</text>
<line x1="270.60" y1="278.07" x2="273.40" y2="278.07" stroke="#333" stroke-width="0.9"/>
<text x="268.70" y="278.07" font-size="5.3" font-weight="normal" text-anchor="end" fill="#333" dominant-baseline="central" font-family="Liberation Serif">400</text>
<line x1="270.60" y1="260.38" x2="273.40" y2="260.38" stroke="#333" stroke-width="0.9"/>
<text x="268.70" y="260.38" font-size="5.3" font-weight="normal" text-anchor="end" fill="#333" dominant-baseline="central" font-family="Liberation Serif">500</text>
<line x1="270.60" y1="242.70" x2="273.40" y2="242.70" stroke="#333" stroke-width="0.9"/>
<text x="268.70" y="242.70" font-size="5.3" font-weight="normal" text-anchor="end" fill="#333" dominant-baseline="central" font-family="Liberation Serif">600</text>
<line x1="273.40" y1="348.80" x2="273.40" y2="351.00" stroke="#333" stroke-width="0.9"/>
<text x="273.40" y="353.20" font-size="5.1" font-weight="normal" text-anchor="end" fill="#333" transform="rotate(-90 273.4 353.2)" dominant-baseline="central" font-family="Liberation Serif">100</text>
<line x1="291.17" y1="348.80" x2="291.17" y2="351.00" stroke="#333" stroke-width="0.9"/>
<text x="291.17" y="353.20" font-size="5.1" font-weight="normal" text-anchor="end" fill="#333" transform="rotate(-90 291.16666666666663 353.2)" dominant-baseline="central" font-family="Liberation Serif">200</text>
<line x1="308.93" y1="348.80" x2="308.93" y2="351.00" stroke="#333" stroke-width="0.9"/>
<text x="308.93" y="353.20" font-size="5.1" font-weight="normal" text-anchor="end" fill="#333" transform="rotate(-90 308.93333333333334 353.2)" dominant-baseline="central" font-family="Liberation Serif">300</text>
<line x1="326.70" y1="348.80" x2="326.70" y2="351.00" stroke="#333" stroke-width="0.9"/>
<text x="326.70" y="353.20" font-size="5.1" font-weight="normal" text-anchor="end" fill="#333" transform="rotate(-90 326.7 353.2)" dominant-baseline="central" font-family="Liberation Serif">400</text>
<line x1="344.47" y1="348.80" x2="344.47" y2="351.00" stroke="#333" stroke-width="0.9"/>
<text x="344.47" y="353.20" font-size="5.1" font-weight="normal" text-anchor="end" fill="#333" transform="rotate(-90 344.46666666666664 353.2)" dominant-baseline="central" font-family="Liberation Serif">500</text>
<line x1="362.23" y1="348.80" x2="362.23" y2="351.00" stroke="#333" stroke-width="0.9"/>
<text x="362.23" y="353.20" font-size="5.1" font-weight="normal" text-anchor="end" fill="#333" transform="rotate(-90 362.23333333333335 353.2)" dominant-baseline="central" font-family="Liberation Serif">600</text>
<line x1="380.00" y1="348.80" x2="380.00" y2="351.00" stroke="#333" stroke-width="0.9"/>
<text x="380.00" y="353.20" font-size="5.1" font-weight="normal" text-anchor="end" fill="#333" transform="rotate(-90 380.0 353.2)" dominant-baseline="central" font-family="Liberation Serif">700</text>
<rect x="409.60" y="243.20" width="106.70" height="105.60" fill="none" stroke="#555" stroke-width="0.9"/>
<line x1="409.60" y1="243.20" x2="409.60" y2="348.80" stroke="#222" stroke-width="1.1"/>
<line x1="409.60" y1="348.80" x2="516.30" y2="348.80" stroke="#222" stroke-width="1.1"/>
<line x1="406.80" y1="348.80" x2="409.60" y2="348.80" stroke="#333" stroke-width="0.9"/>
<text x="404.90" y="348.80" font-size="5.3" font-weight="normal" text-anchor="end" fill="#333" dominant-baseline="central" font-family="Liberation Serif">0</text>
<line x1="406.80" y1="327.68" x2="409.60" y2="327.68" stroke="#333" stroke-width="0.9"/>
<text x="404.90" y="327.68" font-size="5.3" font-weight="normal" text-anchor="end" fill="#333" dominant-baseline="central" font-family="Liberation Serif">50</text>
<line x1="406.80" y1="306.56" x2="409.60" y2="306.56" stroke="#333" stroke-width="0.9"/>
<text x="404.90" y="306.56" font-size="5.3" font-weight="normal" text-anchor="end" fill="#333" dominant-baseline="central" font-family="Liberation Serif">100</text>
<line x1="406.80" y1="285.44" x2="409.60" y2="285.44" stroke="#333" stroke-width="0.9"/>
<text x="404.90" y="285.44" font-size="5.3" font-weight="normal" text-anchor="end" fill="#333" dominant-baseline="central" font-family="Liberation Serif">150</text>
<line x1="406.80" y1="264.32" x2="409.60" y2="264.32" stroke="#333" stroke-width="0.9"/>
<text x="404.90" y="264.32" font-size="5.3" font-weight="normal" text-anchor="end" fill="#333" dominant-baseline="central" font-family="Liberation Serif">200</text>
<line x1="406.80" y1="243.20" x2="409.60" y2="243.20" stroke="#333" stroke-width="0.9"/>
<text x="404.90" y="243.20" font-size="5.3" font-weight="normal" text-anchor="end" fill="#333" dominant-baseline="central" font-family="Liberation Serif">250</text>
<line x1="409.60" y1="348.80" x2="409.60" y2="351.00" stroke="#333" stroke-width="0.9"/>
<text x="409.60" y="353.20" font-size="5.1" font-weight="normal" text-anchor="end" fill="#333" transform="rotate(-90 409.6 353.2)" dominant-baseline="central" font-family="Liberation Serif">100</text>
<line x1="427.38" y1="348.80" x2="427.38" y2="351.00" stroke="#333" stroke-width="0.9"/>
<text x="427.38" y="353.20" font-size="5.1" font-weight="normal" text-anchor="end" fill="#333" transform="rotate(-90 427.3833333333333 353.2)" dominant-baseline="central" font-family="Liberation Serif">200</text>
<line x1="445.17" y1="348.80" x2="445.17" y2="351.00" stroke="#333" stroke-width="0.9"/>
<text x="445.17" y="353.20" font-size="5.1" font-weight="normal" text-anchor="end" fill="#333" transform="rotate(-90 445.1666666666667 353.2)" dominant-baseline="central" font-family="Liberation Serif">300</text>
<line x1="462.95" y1="348.80" x2="462.95" y2="351.00" stroke="#333" stroke-width="0.9"/>
<text x="462.95" y="353.20" font-size="5.1" font-weight="normal" text-anchor="end" fill="#333" transform="rotate(-90 462.95 353.2)" dominant-baseline="central" font-family="Liberation Serif">400</text>
<line x1="480.73" y1="348.80" x2="480.73" y2="351.00" stroke="#333" stroke-width="0.9"/>
<text x="480.73" y="353.20" font-size="5.1" font-weight="normal" text-anchor="end" fill="#333" transform="rotate(-90 480.7333333333333 353.2)" dominant-baseline="central" font-family="Liberation Serif">500</text>
<line x1="498.52" y1="348.80" x2="498.52" y2="351.00" stroke="#333" stroke-width="0.9"/>
<text x="498.52" y="353.20" font-size="5.1" font-weight="normal" text-anchor="end" fill="#333" transform="rotate(-90 498.51666666666665 353.2)" dominant-baseline="central" font-family="Liberation Serif">600</text>
<line x1="516.30" y1="348.80" x2="516.30" y2="351.00" stroke="#333" stroke-width="0.9"/>
<text x="516.30" y="353.20" font-size="5.1" font-weight="normal" text-anchor="end" fill="#333" transform="rotate(-90 516.3 353.2)" dominant-baseline="central" font-family="Liberation Serif">700</text>
<text x="250.50" y="292.40" font-size="9.4" font-weight="bold" text-anchor="middle" fill="#000" textLength="75.1" lengthAdjust="spacingAndGlyphs" transform="rotate(-90 250.5 292.4)" dominant-baseline="central" stroke="#000" stroke-width="0.22">PSC/Efflux-Efflux</text>
<text x="389.20" y="295.00" font-size="9.9" font-weight="bold" text-anchor="middle" fill="#000" textLength="58.6" lengthAdjust="spacingAndGlyphs" transform="rotate(-90 389.2 295.0)" dominant-baseline="central" stroke="#000" stroke-width="0.22">PSC-Control</text>
<text x="325.00" y="378.90" font-size="9.6" font-weight="bold" text-anchor="middle" fill="#000" textLength="72.5" lengthAdjust="spacingAndGlyphs" stroke="#000" stroke-width="0.22">MRK-16 Staining</text>
<text x="462.00" y="378.90" font-size="9.6" font-weight="bold" text-anchor="middle" fill="#000" textLength="72.3" lengthAdjust="spacingAndGlyphs" stroke="#000" stroke-width="0.22">MRK-16 Staining</text>
<text x="377.00" y="345.20" font-size="7.4" font-weight="normal" text-anchor="end" fill="#111" textLength="25.8" lengthAdjust="spacingAndGlyphs" stroke="#111" stroke-width="0.15">r=0.854</text>
<text x="514.00" y="346.20" font-size="7.4" font-weight="normal" text-anchor="end" fill="#111" textLength="26.3" lengthAdjust="spacingAndGlyphs" stroke="#111" stroke-width="0.15">r=0.751</text>
<path d="M42.00,78.40 L42.50,78.40 L43.00,78.40 L43.50,78.40 L44.00,78.40 L44.50,78.39 L45.00,78.38 L45.50,78.36 L46.00,78.32 L46.50,78.24 L47.00,78.11 L47.50,77.88 L48.00,77.52 L48.50,76.95 L49.00,76.13 L49.50,74.97 L50.00,73.42 L50.50,71.43 L51.00,68.99 L51.50,66.11 L52.00,62.88 L52.50,59.40 L53.00,55.82 L53.50,52.32 L54.00,49.06 L54.50,46.20 L55.00,43.84 L55.50,42.07 L56.00,40.88 L56.50,40.23 L57.00,40.01 L57.50,40.03 L58.00,40.32 L58.50,41.07 L59.00,42.38 L59.50,44.27 L60.00,46.73 L60.50,49.68 L61.00,53.00 L61.50,56.54 L62.00,60.11 L62.50,63.55 L63.00,66.72 L63.50,69.51 L64.00,71.87 L64.50,73.77 L65.00,75.24 L65.50,76.32 L66.00,77.09 L66.50,77.60 L67.00,77.94 L67.50,78.14 L68.00,78.26 L68.50,78.33 L69.00,78.37 L69.50,78.38 L70.00,78.39 L70.50,78.40 L71.00,78.40 L71.50,78.40 L72.00,78.40 L72.50,78.40 L73.00,78.40 L73.50,78.40 L74.00,78.40 L74.50,78.40 L75.00,78.40 L75.50,78.40 L76.00,78.40 L76.50,78.40 L77.00,78.40 L77.50,78.40 L78.00,78.40 L78.50,78.40 L79.00,78.40 L79.50,78.40 L80.00,78.40 L80.50,78.40 L81.00,78.40 L81.50,78.40 L82.00,78.40 L82.50,78.40 L83.00,78.40 L83.50,78.40 L84.00,78.40 L84.50,78.40 L85.00,78.40 L85.50,78.40 L86.00,78.40 L86.50,78.40 L87.00,78.40 L87.50,78.40 L88.00,78.40 L88.50,78.40 L89.00,78.40 L89.50,78.40 L90.00,78.40 L90.50,78.40 L91.00,78.40 L91.50,78.40 L92.00,78.40 L92.50,78.40 L93.00,78.40 L93.50,78.40 L94.00,78.40 L94.50,78.40 L95.00,78.40 L95.50,78.40 L96.00,78.40 L96.50,78.40 L97.00,78.40 L97.50,78.40 L98.00,78.40 L98.50,78.40 L99.00,78.40 L99.50,78.40 L100.00,78.40 L100.50,78.40 L101.00,78.40 L101.50,78.40 L102.00,78.40 L102.50,78.40 L103.00,78.40 L103.50,78.40 L104.00,78.40 L104.50,78.40 L105.00,78.40 L105.50,78.40 L106.00,78.40 L106.50,78.40 L107.00,78.40 L107.50,78.40 L108.00,78.40 L108.50,78.40 L109.00,78.40 L109.50,78.40 L110.00,78.40 L110.50,78.40 L111.00,78.40 L111.50,78.40 L112.00,78.40 L112.50,78.40 L113.00,78.40 L113.50,78.40 L114.00,78.40 L114.50,78.40 L115.00,78.40 L115.50,78.40 L116.00,78.40 L116.50,78.40 L117.00,78.40 L117.50,78.40 L118.00,78.40 L118.50,78.40 L119.00,78.40 L119.50,78.40 L120.00,78.40 L120.50,78.40 L121.00,78.40 L121.50,78.40 L122.00,78.40 L122.50,78.40 L123.00,78.40 L123.50,78.40 L124.00,78.40 L124.50,78.40 L125.00,78.40 L125.50,78.40 L126.00,78.40 L126.50,78.40 L127.00,78.40 L127.50,78.40 L128.00,78.40 L128.50,78.40 L129.00,78.40 L129.50,78.40 L130.00,78.40 L130.50,78.40 L131.00,78.40 L131.50,78.40 L132.00,78.40 L132.50,78.40 L133.00,78.40 L133.50,78.40 L134.00,78.40 L134.50,78.40" stroke="#6e6e6e" stroke-width="1.05" fill="none" stroke-linejoin="round"/>
<path d="M42.00,78.40 L42.50,78.40 L43.00,78.40 L43.50,78.40 L44.00,78.40 L44.50,78.40 L45.00,78.40 L45.50,78.40 L46.00,78.40 L46.50,78.40 L47.00,78.40 L47.50,78.40 L48.00,78.40 L48.50,78.40 L49.00,78.40 L49.50,78.40 L50.00,78.40 L50.50,78.40 L51.00,78.40 L51.50,78.40 L52.00,78.40 L52.50,78.40 L53.00,78.40 L53.50,78.40 L54.00,78.40 L54.50,78.40 L55.00,78.40 L55.50,78.40 L56.00,78.40 L56.50,78.40 L57.00,78.40 L57.50,78.40 L58.00,78.40 L58.50,78.40 L59.00,78.40 L59.50,78.40 L60.00,78.40 L60.50,78.40 L61.00,78.40 L61.50,78.40 L62.00,78.40 L62.50,78.40 L63.00,78.40 L63.50,78.40 L64.00,78.40 L64.50,78.40 L65.00,78.40 L65.50,78.40 L66.00,78.40 L66.50,78.40 L67.00,78.40 L67.50,78.40 L68.00,78.40 L68.50,78.40 L69.00,78.40 L69.50,78.40 L70.00,78.40 L70.50,78.40 L71.00,78.40 L71.50,78.40 L72.00,78.40 L72.50,78.40 L73.00,78.40 L73.50,78.40 L74.00,78.40 L74.50,78.40 L75.00,78.40 L75.50,78.40 L76.00,78.40 L76.50,78.40 L77.00,78.40 L77.50,78.40 L78.00,78.40 L78.50,78.40 L79.00,78.40 L79.50,78.40 L80.00,78.40 L80.50,78.40 L81.00,78.40 L81.50,78.40 L82.00,78.40 L82.50,78.40 L83.00,78.40 L83.50,78.40 L84.00,78.40 L84.50,78.40 L85.00,78.40 L85.50,78.40 L86.00,78.40 L86.50,78.40 L87.00,78.40 L87.50,78.40 L88.00,78.40 L88.50,78.40 L89.00,78.40 L89.50,78.40 L90.00,78.39 L90.50,78.39 L91.00,78.39 L91.50,78.38 L92.00,78.37 L92.50,78.36 L93.00,78.35 L93.50,78.33 L94.00,78.30 L94.50,78.27 L95.00,78.22 L95.50,78.17 L96.00,78.10 L96.50,78.01 L97.00,77.90 L97.50,77.77 L98.00,77.62 L98.50,77.44 L99.00,77.23 L99.50,76.99 L100.00,76.73 L100.50,76.43 L101.00,76.11 L101.50,75.77 L102.00,75.40 L102.50,75.01 L103.00,74.61 L103.50,74.20 L104.00,73.78 L104.50,73.35 L105.00,72.91 L105.50,72.46 L106.00,71.99 L106.50,71.50 L107.00,70.97 L107.50,70.39 L108.00,69.75 L108.50,69.02 L109.00,68.20 L109.50,67.27 L110.00,66.22 L110.50,65.03 L111.00,63.72 L111.50,62.27 L112.00,60.71 L112.50,59.07 L113.00,57.39 L113.50,55.71 L114.00,54.12 L114.50,52.70 L115.00,51.57 L115.50,50.94 L116.00,51.57 L116.50,53.11 L117.00,55.09 L117.50,57.31 L118.00,59.64 L118.50,61.96 L119.00,64.19 L119.50,66.28 L120.00,68.20 L120.50,69.91 L121.00,71.42 L121.50,72.72 L122.00,73.83 L122.50,74.76 L123.00,75.53 L123.50,76.16 L124.00,76.66 L124.50,77.07 L125.00,77.39 L125.50,77.64 L126.00,77.83 L126.50,77.98 L127.00,78.09 L127.50,78.18 L128.00,78.24 L128.50,78.28 L129.00,78.32 L129.50,78.34 L130.00,78.36 L130.50,78.37 L131.00,78.38 L131.50,78.39 L132.00,78.39 L132.50,78.39 L133.00,78.40 L133.50,78.40 L134.00,78.40 L134.50,78.40" stroke="#000" stroke-width="1.65" fill="none" stroke-linejoin="round"/>
<path d="M42.00,78.40 L42.50,78.40 L43.00,78.40 L43.50,78.40 L44.00,78.40 L44.50,78.40 L45.00,78.40 L45.50,78.40 L46.00,78.40 L46.50,78.40 L47.00,78.40 L47.50,78.40 L48.00,78.40 L48.50,78.40 L49.00,78.40 L49.50,78.40 L50.00,78.40 L50.50,78.40 L51.00,78.40 L51.50,78.40 L52.00,78.40 L52.50,78.40 L53.00,78.40 L53.50,78.40 L54.00,78.40 L54.50,78.40 L55.00,78.40 L55.50,78.40 L56.00,78.40 L56.50,78.40 L57.00,78.40 L57.50,78.40 L58.00,78.40 L58.50,78.40 L59.00,78.40 L59.50,78.40 L60.00,78.40 L60.50,78.40 L61.00,78.40 L61.50,78.40 L62.00,78.40 L62.50,78.40 L63.00,78.40 L63.50,78.40 L64.00,78.40 L64.50,78.40 L65.00,78.40 L65.50,78.40 L66.00,78.40 L66.50,78.40 L67.00,78.40 L67.50,78.40 L68.00,78.40 L68.50,78.40 L69.00,78.40 L69.50,78.40 L70.00,78.40 L70.50,78.40 L71.00,78.40 L71.50,78.40 L72.00,78.40 L72.50,78.40 L73.00,78.40 L73.50,78.40 L74.00,78.40 L74.50,78.40 L75.00,78.40 L75.50,78.40 L76.00,78.40 L76.50,78.40 L77.00,78.40 L77.50,78.40 L78.00,78.40 L78.50,78.40 L79.00,78.40 L79.50,78.40 L80.00,78.40 L80.50,78.40 L81.00,78.40 L81.50,78.40 L82.00,78.40 L82.50,78.40 L83.00,78.40 L83.50,78.40 L84.00,78.40 L84.50,78.40 L85.00,78.40 L85.50,78.40 L86.00,78.40 L86.50,78.40 L87.00,78.40 L87.50,78.40 L88.00,78.40 L88.50,78.40 L89.00,78.40 L89.50,78.40 L90.00,78.40 L90.50,78.40 L91.00,78.40 L91.50,78.40 L92.00,78.40 L92.50,78.40 L93.00,78.40 L93.50,78.40 L94.00,78.40 L94.50,78.40 L95.00,78.40 L95.50,78.40 L96.00,78.40 L96.50,78.40 L97.00,78.40 L97.50,78.40 L98.00,78.40 L98.50,78.40 L99.00,78.40 L99.50,78.40 L100.00,78.40 L100.50,78.40 L101.00,78.40 L101.50,78.40 L102.00,78.40 L102.50,78.40 L103.00,78.40 L103.50,78.40 L104.00,78.40 L104.50,78.40 L105.00,78.40 L105.50,78.39 L106.00,78.38 L106.50,78.37 L107.00,78.34 L107.50,78.28 L108.00,78.18 L108.50,78.02 L109.00,77.74 L109.50,77.31 L110.00,76.65 L110.50,75.67 L111.00,74.28 L111.50,72.38 L112.00,69.88 L112.50,66.72 L113.00,62.88 L113.50,58.44 L114.00,53.52 L114.50,48.37 L115.00,43.29 L115.50,38.65 L116.00,34.79 L116.50,32.07 L117.00,30.72 L117.50,30.87 L118.00,32.51 L118.50,35.48 L119.00,39.52 L119.50,44.29 L120.00,49.41 L120.50,54.53 L121.00,59.37 L121.50,63.70 L122.00,67.40 L122.50,70.43 L123.00,72.81 L123.50,74.60 L124.00,75.90 L124.50,76.80 L125.00,77.41 L125.50,77.81 L126.00,78.06 L126.50,78.21 L127.00,78.30 L127.50,78.34 L128.00,78.37 L128.50,78.39 L129.00,78.39 L129.50,78.40 L130.00,78.40 L130.50,78.40 L131.00,78.40 L131.50,78.40 L132.00,78.40 L132.50,78.40 L133.00,78.40 L133.50,78.40 L134.00,78.40 L134.50,78.40" stroke="#222" stroke-width="1.0" fill="none" stroke-dasharray="1.9 1.3"/>
<path d="M42.00,175.05 L42.50,174.96 L43.00,174.82 L43.50,174.60 L44.00,174.29 L44.50,173.85 L45.00,173.22 L45.50,172.38 L46.00,171.25 L46.50,169.80 L47.00,167.96 L47.50,165.72 L48.00,163.04 L48.50,159.94 L49.00,156.46 L49.50,152.68 L50.00,148.71 L50.50,144.71 L51.00,140.86 L51.50,137.35 L52.00,134.37 L52.50,132.10 L53.00,130.68 L53.50,130.20 L54.00,130.52 L54.50,131.46 L55.00,132.98 L55.50,135.02 L56.00,137.51 L56.50,140.33 L57.00,143.40 L57.50,146.61 L58.00,149.85 L58.50,153.05 L59.00,156.11 L59.50,158.98 L60.00,161.61 L60.50,163.98 L61.00,166.06 L61.50,167.87 L62.00,169.39 L62.50,170.67 L63.00,171.71 L63.50,172.56 L64.00,173.22 L64.50,173.74 L65.00,174.14 L65.50,174.44 L66.00,174.66 L66.50,174.83 L67.00,174.94 L67.50,175.03 L68.00,175.08 L68.50,175.12 L69.00,175.15 L69.50,175.17 L70.00,175.18 L70.50,175.19 L71.00,175.19 L71.50,175.20 L72.00,175.20 L72.50,175.20 L73.00,175.20 L73.50,175.20 L74.00,175.20 L74.50,175.20 L75.00,175.20 L75.50,175.20 L76.00,175.20 L76.50,175.20 L77.00,175.20 L77.50,175.20 L78.00,175.20 L78.50,175.20 L79.00,175.20 L79.50,175.20 L80.00,175.20 L80.50,175.20 L81.00,175.20 L81.50,175.20 L82.00,175.20 L82.50,175.20 L83.00,175.20 L83.50,175.20 L84.00,175.20 L84.50,175.20 L85.00,175.20 L85.50,175.20 L86.00,175.20 L86.50,175.20 L87.00,175.20 L87.50,175.20 L88.00,175.20 L88.50,175.20 L89.00,175.20 L89.50,175.20 L90.00,175.20 L90.50,175.20 L91.00,175.20 L91.50,175.20 L92.00,175.20 L92.50,175.20 L93.00,175.20 L93.50,175.20 L94.00,175.20 L94.50,175.20 L95.00,175.20 L95.50,175.20 L96.00,175.20 L96.50,175.20 L97.00,175.20 L97.50,175.20 L98.00,175.20 L98.50,175.20 L99.00,175.20 L99.50,175.20 L100.00,175.20 L100.50,175.20 L101.00,175.20 L101.50,175.20 L102.00,175.20 L102.50,175.20 L103.00,175.20 L103.50,175.20 L104.00,175.20 L104.50,175.20 L105.00,175.20 L105.50,175.20 L106.00,175.20 L106.50,175.20 L107.00,175.20 L107.50,175.20 L108.00,175.20 L108.50,175.20 L109.00,175.20 L109.50,175.20 L110.00,175.20 L110.50,175.20 L111.00,175.20 L111.50,175.20 L112.00,175.20 L112.50,175.20 L113.00,175.20 L113.50,175.20 L114.00,175.20 L114.50,175.20 L115.00,175.20 L115.50,175.20 L116.00,175.20 L116.50,175.20 L117.00,175.20 L117.50,175.20 L118.00,175.20 L118.50,175.20 L119.00,175.20 L119.50,175.20 L120.00,175.20 L120.50,175.20 L121.00,175.20 L121.50,175.20 L122.00,175.20 L122.50,175.20 L123.00,175.20 L123.50,175.20 L124.00,175.20 L124.50,175.20 L125.00,175.20 L125.50,175.20 L126.00,175.20 L126.50,175.20 L127.00,175.20 L127.50,175.20 L128.00,175.20 L128.50,175.20 L129.00,175.20 L129.50,175.20 L130.00,175.20 L130.50,175.20 L131.00,175.20 L131.50,175.20 L132.00,175.20 L132.50,175.20 L133.00,175.20 L133.50,175.20 L134.00,175.20 L134.50,175.20" stroke="#8c8c8c" stroke-width="1.0" fill="none" stroke-dasharray="0.8 0.8"/>
<path d="M42.00,174.62 L42.50,174.26 L43.00,173.72 L43.50,172.93 L44.00,171.81 L44.50,170.27 L45.00,168.23 L45.50,165.61 L46.00,162.34 L46.50,158.42 L47.00,153.89 L47.50,148.85 L48.00,143.48 L48.50,138.03 L49.00,132.80 L49.50,128.11 L50.00,124.30 L50.50,121.63 L51.00,120.32 L51.50,120.47 L52.00,122.06 L52.50,124.98 L53.00,128.99 L53.50,133.81 L54.00,139.11 L54.50,144.57 L55.00,149.89 L55.50,154.84 L56.00,159.26 L56.50,163.05 L57.00,166.18 L57.50,168.69 L58.00,170.62 L58.50,172.06 L59.00,173.11 L59.50,173.84 L60.00,174.34 L60.50,174.67 L61.00,174.88 L61.50,175.02 L62.00,175.10 L62.50,175.14 L63.00,175.17 L63.50,175.18 L64.00,175.19 L64.50,175.20 L65.00,175.20 L65.50,175.20 L66.00,175.20 L66.50,175.20 L67.00,175.20 L67.50,175.20 L68.00,175.20 L68.50,175.20 L69.00,175.20 L69.50,175.20 L70.00,175.20 L70.50,175.20 L71.00,175.20 L71.50,175.20 L72.00,175.20 L72.50,175.20 L73.00,175.20 L73.50,175.20 L74.00,175.20 L74.50,175.20 L75.00,175.20 L75.50,175.20 L76.00,175.20 L76.50,175.20 L77.00,175.20 L77.50,175.20 L78.00,175.20 L78.50,175.20 L79.00,175.20 L79.50,175.20 L80.00,175.20 L80.50,175.20 L81.00,175.20 L81.50,175.20 L82.00,175.20 L82.50,175.20 L83.00,175.20 L83.50,175.20 L84.00,175.20 L84.50,175.20 L85.00,175.20 L85.50,175.20 L86.00,175.20 L86.50,175.20 L87.00,175.20 L87.50,175.20 L88.00,175.20 L88.50,175.20 L89.00,175.20 L89.50,175.20 L90.00,175.20 L90.50,175.20 L91.00,175.20 L91.50,175.20 L92.00,175.20 L92.50,175.20 L93.00,175.20 L93.50,175.20 L94.00,175.20 L94.50,175.20 L95.00,175.20 L95.50,175.20 L96.00,175.20 L96.50,175.20 L97.00,175.20 L97.50,175.20 L98.00,175.20 L98.50,175.20 L99.00,175.20 L99.50,175.20 L100.00,175.20 L100.50,175.20 L101.00,175.20 L101.50,175.20 L102.00,175.20 L102.50,175.20 L103.00,175.20 L103.50,175.20 L104.00,175.20 L104.50,175.20 L105.00,175.20 L105.50,175.20 L106.00,175.20 L106.50,175.20 L107.00,175.20 L107.50,175.20 L108.00,175.20 L108.50,175.20 L109.00,175.20 L109.50,175.20 L110.00,175.20 L110.50,175.20 L111.00,175.20 L111.50,175.20 L112.00,175.20 L112.50,175.20 L113.00,175.20 L113.50,175.20 L114.00,175.20 L114.50,175.20 L115.00,175.20 L115.50,175.20 L116.00,175.20 L116.50,175.20 L117.00,175.20 L117.50,175.20 L118.00,175.20 L118.50,175.20 L119.00,175.20 L119.50,175.20 L120.00,175.20 L120.50,175.20 L121.00,175.20 L121.50,175.20 L122.00,175.20 L122.50,175.20 L123.00,175.20 L123.50,175.20 L124.00,175.20 L124.50,175.20 L125.00,175.20 L125.50,175.20 L126.00,175.20 L126.50,175.20 L127.00,175.20 L127.50,175.20 L128.00,175.20 L128.50,175.20 L129.00,175.20 L129.50,175.20 L130.00,175.20 L130.50,175.20 L131.00,175.20 L131.50,175.20 L132.00,175.20 L132.50,175.20 L133.00,175.20 L133.50,175.20 L134.00,175.20 L134.50,175.20" stroke="#2a2a2a" stroke-width="1.0" fill="none" stroke-linejoin="round"/>
<path d="M158.00,78.35 L158.50,78.30 L159.00,78.22 L159.50,78.08 L160.00,77.86 L160.50,77.50 L161.00,76.97 L161.50,76.21 L162.00,75.16 L162.50,73.76 L163.00,71.98 L163.50,69.80 L164.00,67.22 L164.50,64.32 L165.00,61.16 L165.50,57.88 L166.00,54.62 L166.50,51.53 L167.00,48.77 L167.50,46.44 L168.00,44.64 L168.50,43.39 L169.00,42.67 L169.50,42.41 L170.00,42.44 L170.50,42.78 L171.00,43.59 L171.50,44.95 L172.00,46.87 L172.50,49.29 L173.00,52.13 L173.50,55.26 L174.00,58.54 L174.50,61.81 L175.00,64.92 L175.50,67.77 L176.00,70.27 L176.50,72.37 L177.00,74.07 L177.50,75.40 L178.00,76.38 L178.50,77.09 L179.00,77.58 L179.50,77.91 L180.00,78.12 L180.50,78.24 L181.00,78.31 L181.50,78.36 L182.00,78.38 L182.50,78.39 L183.00,78.40 L183.50,78.40 L184.00,78.40 L184.50,78.40 L185.00,78.40 L185.50,78.40 L186.00,78.40 L186.50,78.40 L187.00,78.40 L187.50,78.40 L188.00,78.40 L188.50,78.40 L189.00,78.40 L189.50,78.40 L190.00,78.40 L190.50,78.40 L191.00,78.40 L191.50,78.40 L192.00,78.40 L192.50,78.40 L193.00,78.40 L193.50,78.40 L194.00,78.40 L194.50,78.40 L195.00,78.40 L195.50,78.40 L196.00,78.40 L196.50,78.40 L197.00,78.40 L197.50,78.40 L198.00,78.40 L198.50,78.40 L199.00,78.40 L199.50,78.40 L200.00,78.40 L200.50,78.40 L201.00,78.40 L201.50,78.40 L202.00,78.40 L202.50,78.40 L203.00,78.40 L203.50,78.40 L204.00,78.40 L204.50,78.40 L205.00,78.40 L205.50,78.40 L206.00,78.40 L206.50,78.40 L207.00,78.40 L207.50,78.40 L208.00,78.40 L208.50,78.40 L209.00,78.40 L209.50,78.40 L210.00,78.40 L210.50,78.40 L211.00,78.40 L211.50,78.40 L212.00,78.40 L212.50,78.40 L213.00,78.40 L213.50,78.40 L214.00,78.40 L214.50,78.40 L215.00,78.40 L215.50,78.40 L216.00,78.40 L216.50,78.40 L217.00,78.40 L217.50,78.40 L218.00,78.40 L218.50,78.40 L219.00,78.40 L219.50,78.40 L220.00,78.40 L220.50,78.40 L221.00,78.40 L221.50,78.40 L222.00,78.40 L222.50,78.40 L223.00,78.40 L223.50,78.40 L224.00,78.40 L224.50,78.40 L225.00,78.40 L225.50,78.40 L226.00,78.40 L226.50,78.40 L227.00,78.40 L227.50,78.40 L228.00,78.40 L228.50,78.40 L229.00,78.40 L229.50,78.40 L230.00,78.40 L230.50,78.40 L231.00,78.40 L231.50,78.40 L232.00,78.40 L232.50,78.40 L233.00,78.40 L233.50,78.40 L234.00,78.40 L234.50,78.40 L235.00,78.40 L235.50,78.40 L236.00,78.40 L236.50,78.40 L237.00,78.40 L237.50,78.40 L238.00,78.40 L238.50,78.40 L239.00,78.40 L239.50,78.40 L240.00,78.40 L240.50,78.40 L241.00,78.40 L241.50,78.40 L242.00,78.40 L242.50,78.40 L243.00,78.40 L243.50,78.40 L244.00,78.40 L244.50,78.40 L245.00,78.40 L245.50,78.40 L246.00,78.40 L246.50,78.40 L247.00,78.40 L247.50,78.40 L248.00,78.40 L248.50,78.40 L249.00,78.40 L249.50,78.40 L250.00,78.40 L250.50,78.40" stroke="#6e6e6e" stroke-width="1.05" fill="none" stroke-linejoin="round"/>
<path d="M158.00,78.40 L158.50,78.40 L159.00,78.40 L159.50,78.40 L160.00,78.40 L160.50,78.40 L161.00,78.40 L161.50,78.40 L162.00,78.40 L162.50,78.40 L163.00,78.40 L163.50,78.40 L164.00,78.40 L164.50,78.40 L165.00,78.40 L165.50,78.40 L166.00,78.40 L166.50,78.40 L167.00,78.40 L167.50,78.40 L168.00,78.40 L168.50,78.40 L169.00,78.40 L169.50,78.40 L170.00,78.40 L170.50,78.40 L171.00,78.40 L171.50,78.40 L172.00,78.40 L172.50,78.40 L173.00,78.40 L173.50,78.40 L174.00,78.40 L174.50,78.40 L175.00,78.40 L175.50,78.40 L176.00,78.40 L176.50,78.40 L177.00,78.40 L177.50,78.40 L178.00,78.40 L178.50,78.40 L179.00,78.40 L179.50,78.40 L180.00,78.40 L180.50,78.40 L181.00,78.40 L181.50,78.40 L182.00,78.39 L182.50,78.39 L183.00,78.39 L183.50,78.38 L184.00,78.37 L184.50,78.36 L185.00,78.34 L185.50,78.32 L186.00,78.28 L186.50,78.24 L187.00,78.18 L187.50,78.10 L188.00,78.00 L188.50,77.87 L189.00,77.70 L189.50,77.49 L190.00,77.23 L190.50,76.90 L191.00,76.50 L191.50,76.02 L192.00,75.45 L192.50,74.77 L193.00,73.99 L193.50,73.09 L194.00,72.07 L194.50,70.95 L195.00,69.71 L195.50,68.39 L196.00,66.99 L196.50,65.55 L197.00,64.10 L197.50,62.68 L198.00,61.34 L198.50,60.12 L199.00,59.08 L199.50,58.29 L200.00,57.80 L200.50,57.72 L201.00,57.92 L201.50,58.28 L202.00,58.77 L202.50,59.38 L203.00,60.09 L203.50,60.87 L204.00,61.72 L204.50,62.62 L205.00,63.55 L205.50,64.50 L206.00,65.46 L206.50,66.42 L207.00,67.36 L207.50,68.28 L208.00,69.17 L208.50,70.02 L209.00,70.83 L209.50,71.59 L210.00,72.31 L210.50,72.98 L211.00,73.59 L211.50,74.16 L212.00,74.67 L212.50,75.14 L213.00,75.56 L213.50,75.94 L214.00,76.28 L214.50,76.58 L215.00,76.84 L215.50,77.07 L216.00,77.27 L216.50,77.45 L217.00,77.60 L217.50,77.73 L218.00,77.84 L218.50,77.94 L219.00,78.02 L219.50,78.08 L220.00,78.14 L220.50,78.19 L221.00,78.23 L221.50,78.26 L222.00,78.29 L222.50,78.31 L223.00,78.33 L223.50,78.34 L224.00,78.35 L224.50,78.36 L225.00,78.37 L225.50,78.38 L226.00,78.38 L226.50,78.39 L227.00,78.39 L227.50,78.39 L228.00,78.39 L228.50,78.40 L229.00,78.40 L229.50,78.40 L230.00,78.40 L230.50,78.40 L231.00,78.40 L231.50,78.40 L232.00,78.40 L232.50,78.40 L233.00,78.40 L233.50,78.40 L234.00,78.40 L234.50,78.40 L235.00,78.40 L235.50,78.40 L236.00,78.40 L236.50,78.40 L237.00,78.40 L237.50,78.40 L238.00,78.40 L238.50,78.40 L239.00,78.40 L239.50,78.40 L240.00,78.40 L240.50,78.40 L241.00,78.40 L241.50,78.40 L242.00,78.40 L242.50,78.40 L243.00,78.40 L243.50,78.40 L244.00,78.40 L244.50,78.40 L245.00,78.40 L245.50,78.40 L246.00,78.40 L246.50,78.40 L247.00,78.40 L247.50,78.40 L248.00,78.40 L248.50,78.40 L249.00,78.40 L249.50,78.40 L250.00,78.40 L250.50,78.40" stroke="#000" stroke-width="1.65" fill="none" stroke-linejoin="round"/>
<path d="M158.00,78.40 L158.50,78.40 L159.00,78.40 L159.50,78.40 L160.00,78.40 L160.50,78.40 L161.00,78.40 L161.50,78.40 L162.00,78.40 L162.50,78.40 L163.00,78.40 L163.50,78.40 L164.00,78.40 L164.50,78.40 L165.00,78.40 L165.50,78.40 L166.00,78.40 L166.50,78.40 L167.00,78.40 L167.50,78.40 L168.00,78.40 L168.50,78.40 L169.00,78.40 L169.50,78.40 L170.00,78.40 L170.50,78.40 L171.00,78.40 L171.50,78.40 L172.00,78.40 L172.50,78.40 L173.00,78.40 L173.50,78.40 L174.00,78.40 L174.50,78.40 L175.00,78.40 L175.50,78.40 L176.00,78.40 L176.50,78.40 L177.00,78.40 L177.50,78.40 L178.00,78.40 L178.50,78.40 L179.00,78.40 L179.50,78.40 L180.00,78.40 L180.50,78.40 L181.00,78.40 L181.50,78.40 L182.00,78.40 L182.50,78.40 L183.00,78.40 L183.50,78.40 L184.00,78.40 L184.50,78.40 L185.00,78.40 L185.50,78.40 L186.00,78.40 L186.50,78.40 L187.00,78.40 L187.50,78.40 L188.00,78.40 L188.50,78.40 L189.00,78.40 L189.50,78.40 L190.00,78.40 L190.50,78.40 L191.00,78.40 L191.50,78.40 L192.00,78.40 L192.50,78.40 L193.00,78.40 L193.50,78.40 L194.00,78.40 L194.50,78.40 L195.00,78.40 L195.50,78.40 L196.00,78.40 L196.50,78.40 L197.00,78.40 L197.50,78.40 L198.00,78.40 L198.50,78.40 L199.00,78.40 L199.50,78.40 L200.00,78.40 L200.50,78.40 L201.00,78.40 L201.50,78.40 L202.00,78.40 L202.50,78.40 L203.00,78.40 L203.50,78.40 L204.00,78.40 L204.50,78.40 L205.00,78.40 L205.50,78.40 L206.00,78.40 L206.50,78.40 L207.00,78.40 L207.50,78.40 L208.00,78.40 L208.50,78.40 L209.00,78.39 L209.50,78.39 L210.00,78.37 L210.50,78.36 L211.00,78.33 L211.50,78.28 L212.00,78.20 L212.50,78.09 L213.00,77.92 L213.50,77.67 L214.00,77.31 L214.50,76.82 L215.00,76.15 L215.50,75.26 L216.00,74.13 L216.50,72.70 L217.00,70.97 L217.50,68.91 L218.00,66.54 L218.50,63.90 L219.00,61.05 L219.50,58.08 L220.00,55.12 L220.50,52.29 L221.00,49.74 L221.50,47.62 L222.00,46.05 L222.50,45.13 L223.00,44.91 L223.50,45.42 L224.00,46.61 L224.50,48.41 L225.00,50.72 L225.50,53.39 L226.00,56.29 L226.50,59.28 L227.00,62.21 L227.50,64.99 L228.00,67.52 L228.50,69.77 L229.00,71.70 L229.50,73.31 L230.00,74.61 L230.50,75.65 L231.00,76.44 L231.50,77.03 L232.00,77.47 L232.50,77.78 L233.00,77.99 L233.50,78.14 L234.00,78.24 L234.50,78.30 L235.00,78.34 L235.50,78.37 L236.00,78.38 L236.50,78.39 L237.00,78.39 L237.50,78.40 L238.00,78.40 L238.50,78.40 L239.00,78.40 L239.50,78.40 L240.00,78.40 L240.50,78.40 L241.00,78.40 L241.50,78.40 L242.00,78.40 L242.50,78.40 L243.00,78.40 L243.50,78.40 L244.00,78.40 L244.50,78.40 L245.00,78.40 L245.50,78.40 L246.00,78.40 L246.50,78.40 L247.00,78.40 L247.50,78.40 L248.00,78.40 L248.50,78.40 L249.00,78.40 L249.50,78.40 L250.00,78.40 L250.50,78.40" stroke="#8c8c8c" stroke-width="1.0" fill="none" stroke-dasharray="0.8 0.8"/>
<path d="M158.00,78.40 L158.50,78.40 L159.00,78.40 L159.50,78.40 L160.00,78.40 L160.50,78.40 L161.00,78.40 L161.50,78.40 L162.00,78.40 L162.50,78.40 L163.00,78.40 L163.50,78.40 L164.00,78.40 L164.50,78.40 L165.00,78.40 L165.50,78.40 L166.00,78.40 L166.50,78.40 L167.00,78.40 L167.50,78.40 L168.00,78.40 L168.50,78.40 L169.00,78.40 L169.50,78.40 L170.00,78.40 L170.50,78.40 L171.00,78.40 L171.50,78.40 L172.00,78.40 L172.50,78.40 L173.00,78.40 L173.50,78.40 L174.00,78.40 L174.50,78.40 L175.00,78.40 L175.50,78.40 L176.00,78.40 L176.50,78.40 L177.00,78.40 L177.50,78.40 L178.00,78.40 L178.50,78.40 L179.00,78.40 L179.50,78.40 L180.00,78.40 L180.50,78.40 L181.00,78.40 L181.50,78.40 L182.00,78.40 L182.50,78.40 L183.00,78.40 L183.50,78.40 L184.00,78.40 L184.50,78.40 L185.00,78.40 L185.50,78.40 L186.00,78.40 L186.50,78.40 L187.00,78.40 L187.50,78.40 L188.00,78.40 L188.50,78.40 L189.00,78.40 L189.50,78.40 L190.00,78.40 L190.50,78.40 L191.00,78.40 L191.50,78.40 L192.00,78.40 L192.50,78.40 L193.00,78.40 L193.50,78.40 L194.00,78.40 L194.50,78.40 L195.00,78.40 L195.50,78.40 L196.00,78.40 L196.50,78.40 L197.00,78.40 L197.50,78.40 L198.00,78.40 L198.50,78.40 L199.00,78.40 L199.50,78.40 L200.00,78.40 L200.50,78.40 L201.00,78.40 L201.50,78.40 L202.00,78.40 L202.50,78.40 L203.00,78.40 L203.50,78.40 L204.00,78.40 L204.50,78.40 L205.00,78.40 L205.50,78.40 L206.00,78.40 L206.50,78.40 L207.00,78.40 L207.50,78.40 L208.00,78.40 L208.50,78.40 L209.00,78.40 L209.50,78.40 L210.00,78.40 L210.50,78.40 L211.00,78.40 L211.50,78.40 L212.00,78.40 L212.50,78.39 L213.00,78.39 L213.50,78.38 L214.00,78.36 L214.50,78.34 L215.00,78.31 L215.50,78.26 L216.00,78.19 L216.50,78.09 L217.00,77.95 L217.50,77.75 L218.00,77.48 L218.50,77.12 L219.00,76.65 L219.50,76.05 L220.00,75.28 L220.50,74.34 L221.00,73.20 L221.50,71.84 L222.00,70.26 L222.50,68.47 L223.00,66.49 L223.50,64.33 L224.00,62.06 L224.50,59.74 L225.00,57.43 L225.50,55.22 L226.00,53.19 L226.50,51.43 L227.00,50.02 L227.50,49.02 L228.00,48.49 L228.50,48.44 L229.00,48.88 L229.50,49.79 L230.00,51.12 L230.50,52.81 L231.00,54.79 L231.50,56.97 L232.00,59.27 L232.50,61.60 L233.00,63.89 L233.50,66.07 L234.00,68.09 L234.50,69.92 L235.00,71.54 L235.50,72.94 L236.00,74.13 L236.50,75.11 L237.00,75.91 L237.50,76.54 L238.00,77.04 L238.50,77.42 L239.00,77.70 L239.50,77.91 L240.00,78.07 L240.50,78.17 L241.00,78.25 L241.50,78.30 L242.00,78.34 L242.50,78.36 L243.00,78.38 L243.50,78.38 L244.00,78.39 L244.50,78.39 L245.00,78.40 L245.50,78.40 L246.00,78.40 L246.50,78.40 L247.00,78.40 L247.50,78.40 L248.00,78.40 L248.50,78.40 L249.00,78.40 L249.50,78.40 L250.00,78.40 L250.50,78.40" stroke="#222" stroke-width="1.0" fill="none" stroke-dasharray="1.9 1.3"/>
<path d="M158.00,174.26 L158.50,173.71 L159.00,172.92 L159.50,171.78 L160.00,170.23 L160.50,168.16 L161.00,165.51 L161.50,162.23 L162.00,158.32 L162.50,153.82 L163.00,148.87 L163.50,143.66 L164.00,138.45 L164.50,133.56 L165.00,129.31 L165.50,126.01 L166.00,123.92 L166.50,123.20 L167.00,123.70 L167.50,125.17 L168.00,127.52 L168.50,130.64 L169.00,134.34 L169.50,138.45 L170.00,142.78 L170.50,147.15 L171.00,151.39 L171.50,155.38 L172.00,159.01 L172.50,162.23 L173.00,165.01 L173.50,167.35 L174.00,169.26 L174.50,170.80 L175.00,172.00 L175.50,172.92 L176.00,173.60 L176.50,174.10 L177.00,174.46 L177.50,174.71 L178.00,174.88 L178.50,175.00 L179.00,175.07 L179.50,175.12 L180.00,175.15 L180.50,175.17 L181.00,175.18 L181.50,175.19 L182.00,175.20 L182.50,175.20 L183.00,175.20 L183.50,175.20 L184.00,175.20 L184.50,175.20 L185.00,175.20 L185.50,175.20 L186.00,175.20 L186.50,175.20 L187.00,175.20 L187.50,175.20 L188.00,175.20 L188.50,175.20 L189.00,175.20 L189.50,175.20 L190.00,175.20 L190.50,175.20 L191.00,175.20 L191.50,175.20 L192.00,175.20 L192.50,175.20 L193.00,175.20 L193.50,175.20 L194.00,175.20 L194.50,175.20 L195.00,175.20 L195.50,175.20 L196.00,175.20 L196.50,175.20 L197.00,175.20 L197.50,175.20 L198.00,175.20 L198.50,175.20 L199.00,175.20 L199.50,175.20 L200.00,175.20 L200.50,175.20 L201.00,175.20 L201.50,175.20 L202.00,175.20 L202.50,175.20 L203.00,175.20 L203.50,175.20 L204.00,175.20 L204.50,175.20 L205.00,175.20 L205.50,175.20 L206.00,175.20 L206.50,175.20 L207.00,175.20 L207.50,175.20 L208.00,175.20 L208.50,175.20 L209.00,175.20 L209.50,175.20 L210.00,175.20 L210.50,175.20 L211.00,175.20 L211.50,175.20 L212.00,175.20 L212.50,175.20 L213.00,175.20 L213.50,175.20 L214.00,175.20 L214.50,175.20 L215.00,175.20 L215.50,175.20 L216.00,175.20 L216.50,175.20 L217.00,175.20 L217.50,175.20 L218.00,175.20 L218.50,175.20 L219.00,175.20 L219.50,175.20 L220.00,175.20 L220.50,175.20 L221.00,175.20 L221.50,175.20 L222.00,175.20 L222.50,175.20 L223.00,175.20 L223.50,175.20 L224.00,175.20 L224.50,175.20 L225.00,175.20 L225.50,175.20 L226.00,175.20 L226.50,175.20 L227.00,175.20 L227.50,175.20 L228.00,175.20 L228.50,175.20 L229.00,175.20 L229.50,175.20 L230.00,175.20 L230.50,175.20 L231.00,175.20 L231.50,175.20 L232.00,175.20 L232.50,175.20 L233.00,175.20 L233.50,175.20 L234.00,175.20 L234.50,175.20 L235.00,175.20 L235.50,175.20 L236.00,175.20 L236.50,175.20 L237.00,175.20 L237.50,175.20 L238.00,175.20 L238.50,175.20 L239.00,175.20 L239.50,175.20 L240.00,175.20 L240.50,175.20 L241.00,175.20 L241.50,175.20 L242.00,175.20 L242.50,175.20 L243.00,175.20 L243.50,175.20 L244.00,175.20 L244.50,175.20 L245.00,175.20 L245.50,175.20 L246.00,175.20 L246.50,175.20 L247.00,175.20 L247.50,175.20 L248.00,175.20 L248.50,175.20 L249.00,175.20 L249.50,175.20 L250.00,175.20 L250.50,175.20" stroke="#8c8c8c" stroke-width="1.0" fill="none" stroke-dasharray="0.8 0.8"/>
<path d="M158.00,174.30 L158.50,173.70 L159.00,172.79 L159.50,171.47 L160.00,169.59 L160.50,167.05 L161.00,163.75 L161.50,159.63 L162.00,154.71 L162.50,149.12 L163.00,143.09 L163.50,136.94 L164.00,131.09 L164.50,126.01 L165.00,122.12 L165.50,119.79 L166.00,119.22 L166.50,120.02 L167.00,121.90 L167.50,124.76 L168.00,128.42 L168.50,132.70 L169.00,137.37 L169.50,142.20 L170.00,147.00 L170.50,151.59 L171.00,155.83 L171.50,159.63 L172.00,162.94 L172.50,165.74 L173.00,168.05 L173.50,169.90 L174.00,171.35 L174.50,172.46 L175.00,173.29 L175.50,173.90 L176.00,174.33 L176.50,174.63 L177.00,174.83 L177.50,174.97 L178.00,175.06 L178.50,175.11 L179.00,175.15 L179.50,175.17 L180.00,175.18 L180.50,175.19 L181.00,175.19 L181.50,175.20 L182.00,175.20 L182.50,175.20 L183.00,175.20 L183.50,175.20 L184.00,175.20 L184.50,175.20 L185.00,175.20 L185.50,175.20 L186.00,175.20 L186.50,175.20 L187.00,175.20 L187.50,175.20 L188.00,175.20 L188.50,175.20 L189.00,175.20 L189.50,175.20 L190.00,175.20 L190.50,175.20 L191.00,175.20 L191.50,175.20 L192.00,175.20 L192.50,175.20 L193.00,175.20 L193.50,175.20 L194.00,175.20 L194.50,175.20 L195.00,175.20 L195.50,175.20 L196.00,175.20 L196.50,175.20 L197.00,175.20 L197.50,175.20 L198.00,175.20 L198.50,175.20 L199.00,175.20 L199.50,175.20 L200.00,175.20 L200.50,175.20 L201.00,175.20 L201.50,175.20 L202.00,175.20 L202.50,175.20 L203.00,175.20 L203.50,175.20 L204.00,175.20 L204.50,175.20 L205.00,175.20 L205.50,175.20 L206.00,175.20 L206.50,175.20 L207.00,175.20 L207.50,175.20 L208.00,175.20 L208.50,175.20 L209.00,175.20 L209.50,175.20 L210.00,175.20 L210.50,175.20 L211.00,175.20 L211.50,175.20 L212.00,175.20 L212.50,175.20 L213.00,175.20 L213.50,175.20 L214.00,175.20 L214.50,175.20 L215.00,175.20 L215.50,175.20 L216.00,175.20 L216.50,175.20 L217.00,175.20 L217.50,175.20 L218.00,175.20 L218.50,175.20 L219.00,175.20 L219.50,175.20 L220.00,175.20 L220.50,175.20 L221.00,175.20 L221.50,175.20 L222.00,175.20 L222.50,175.20 L223.00,175.20 L223.50,175.20 L224.00,175.20 L224.50,175.20 L225.00,175.20 L225.50,175.20 L226.00,175.20 L226.50,175.20 L227.00,175.20 L227.50,175.20 L228.00,175.20 L228.50,175.20 L229.00,175.20 L229.50,175.20 L230.00,175.20 L230.50,175.20 L231.00,175.20 L231.50,175.20 L232.00,175.20 L232.50,175.20 L233.00,175.20 L233.50,175.20 L234.00,175.20 L234.50,175.20 L235.00,175.20 L235.50,175.20 L236.00,175.20 L236.50,175.20 L237.00,175.20 L237.50,175.20 L238.00,175.20 L238.50,175.20 L239.00,175.20 L239.50,175.20 L240.00,175.20 L240.50,175.20 L241.00,175.20 L241.50,175.20 L242.00,175.20 L242.50,175.20 L243.00,175.20 L243.50,175.20 L244.00,175.20 L244.50,175.20 L245.00,175.20 L245.50,175.20 L246.00,175.20 L246.50,175.20 L247.00,175.20 L247.50,175.20 L248.00,175.20 L248.50,175.20 L249.00,175.20 L249.50,175.20 L250.00,175.20 L250.50,175.20" stroke="#2a2a2a" stroke-width="1.0" fill="none" stroke-linejoin="round"/>
<path d="M158.00,175.20 L158.50,175.20 L159.00,175.20 L159.50,175.20 L160.00,175.20 L160.50,175.20 L161.00,175.19 L161.50,175.19 L162.00,175.19 L162.50,175.19 L163.00,175.19 L163.50,175.18 L164.00,175.18 L164.50,175.18 L165.00,175.17 L165.50,175.17 L166.00,175.16 L166.50,175.15 L167.00,175.14 L167.50,175.13 L168.00,175.11 L168.50,175.10 L169.00,175.08 L169.50,175.05 L170.00,175.02 L170.50,174.99 L171.00,174.95 L171.50,174.91 L172.00,174.86 L172.50,174.80 L173.00,174.73 L173.50,174.65 L174.00,174.56 L174.50,174.46 L175.00,174.34 L175.50,174.20 L176.00,174.04 L176.50,173.87 L177.00,173.67 L177.50,173.44 L178.00,173.19 L178.50,172.90 L179.00,172.59 L179.50,172.23 L180.00,171.84 L180.50,171.40 L181.00,170.92 L181.50,170.39 L182.00,169.81 L182.50,169.17 L183.00,168.48 L183.50,167.73 L184.00,166.92 L184.50,166.05 L185.00,165.11 L185.50,164.12 L186.00,163.06 L186.50,161.94 L187.00,160.77 L187.50,159.54 L188.00,158.27 L188.50,156.95 L189.00,155.60 L189.50,154.23 L190.00,152.85 L190.50,151.48 L191.00,150.13 L191.50,148.83 L192.00,147.59 L192.50,146.44 L193.00,145.43 L193.50,144.62 L194.00,144.27 L194.50,144.75 L195.00,145.66 L195.50,146.83 L196.00,148.17 L196.50,149.60 L197.00,151.06 L197.50,152.51 L198.00,153.90 L198.50,155.21 L199.00,156.43 L199.50,157.54 L200.00,158.55 L200.50,159.46 L201.00,160.27 L201.50,161.00 L202.00,161.65 L202.50,162.24 L203.00,162.78 L203.50,163.28 L204.00,163.76 L204.50,164.21 L205.00,164.66 L205.50,165.11 L206.00,165.56 L206.50,166.01 L207.00,166.47 L207.50,166.94 L208.00,167.41 L208.50,167.89 L209.00,168.37 L209.50,168.85 L210.00,169.33 L210.50,169.80 L211.00,170.26 L211.50,170.70 L212.00,171.13 L212.50,171.53 L213.00,171.92 L213.50,172.28 L214.00,172.61 L214.50,172.92 L215.00,173.21 L215.50,173.47 L216.00,173.70 L216.50,173.91 L217.00,174.10 L217.50,174.26 L218.00,174.41 L218.50,174.54 L219.00,174.65 L219.50,174.74 L220.00,174.82 L220.50,174.89 L221.00,174.95 L221.50,174.99 L222.00,175.03 L222.50,175.07 L223.00,175.09 L223.50,175.12 L224.00,175.13 L224.50,175.15 L225.00,175.16 L225.50,175.17 L226.00,175.18 L226.50,175.18 L227.00,175.19 L227.50,175.19 L228.00,175.19 L228.50,175.19 L229.00,175.20 L229.50,175.20 L230.00,175.20 L230.50,175.20 L231.00,175.20 L231.50,175.20 L232.00,175.20 L232.50,175.20 L233.00,175.20 L233.50,175.20 L234.00,175.20 L234.50,175.20 L235.00,175.20 L235.50,175.20 L236.00,175.20 L236.50,175.20 L237.00,175.20 L237.50,175.20 L238.00,175.20 L238.50,175.20 L239.00,175.20 L239.50,175.20 L240.00,175.20 L240.50,175.20 L241.00,175.20 L241.50,175.20 L242.00,175.20 L242.50,175.20 L243.00,175.20 L243.50,175.20 L244.00,175.20 L244.50,175.20 L245.00,175.20 L245.50,175.20 L246.00,175.20 L246.50,175.20 L247.00,175.20 L247.50,175.20 L248.00,175.20 L248.50,175.20 L249.00,175.20 L249.50,175.20 L250.00,175.20 L250.50,175.20" stroke="#222" stroke-width="1.0" fill="none" stroke-dasharray="1.9 1.3"/>
<path d="M273.70,78.40 L274.20,78.40 L274.70,78.40 L275.20,78.40 L275.70,78.40 L276.20,78.40 L276.70,78.39 L277.20,78.39 L277.70,78.37 L278.20,78.34 L278.70,78.29 L279.20,78.19 L279.70,78.01 L280.20,77.72 L280.70,77.26 L281.20,76.56 L281.70,75.56 L282.20,74.17 L282.70,72.33 L283.20,70.01 L283.70,67.20 L284.20,63.95 L284.70,60.35 L285.20,56.56 L285.70,52.75 L286.20,49.11 L286.70,45.85 L287.20,43.12 L287.70,41.02 L288.20,39.60 L288.70,38.84 L289.20,38.60 L289.70,38.69 L290.20,39.22 L290.70,40.37 L291.20,42.20 L291.70,44.69 L292.20,47.75 L292.70,51.26 L293.20,55.02 L293.70,58.85 L294.20,62.54 L294.70,65.95 L295.20,68.94 L295.70,71.46 L296.20,73.49 L296.70,75.05 L297.20,76.20 L297.70,77.01 L298.20,77.56 L298.70,77.91 L299.20,78.13 L299.70,78.25 L300.20,78.32 L300.70,78.36 L301.20,78.38 L301.70,78.39 L302.20,78.40 L302.70,78.40 L303.20,78.40 L303.70,78.40 L304.20,78.40 L304.70,78.40 L305.20,78.40 L305.70,78.40 L306.20,78.40 L306.70,78.40 L307.20,78.40 L307.70,78.40 L308.20,78.40 L308.70,78.40 L309.20,78.40 L309.70,78.40 L310.20,78.40 L310.70,78.40 L311.20,78.40 L311.70,78.40 L312.20,78.40 L312.70,78.40 L313.20,78.40 L313.70,78.40 L314.20,78.40 L314.70,78.40 L315.20,78.40 L315.70,78.40 L316.20,78.40 L316.70,78.40 L317.20,78.40 L317.70,78.40 L318.20,78.40 L318.70,78.40 L319.20,78.40 L319.70,78.40 L320.20,78.40 L320.70,78.40 L321.20,78.40 L321.70,78.40 L322.20,78.40 L322.70,78.40 L323.20,78.40 L323.70,78.40 L324.20,78.40 L324.70,78.40 L325.20,78.40 L325.70,78.40 L326.20,78.40 L326.70,78.40 L327.20,78.40 L327.70,78.40 L328.20,78.40 L328.70,78.40 L329.20,78.40 L329.70,78.40 L330.20,78.40 L330.70,78.40 L331.20,78.40 L331.70,78.40 L332.20,78.40 L332.70,78.40 L333.20,78.40 L333.70,78.40 L334.20,78.40 L334.70,78.40 L335.20,78.40 L335.70,78.40 L336.20,78.40 L336.70,78.40 L337.20,78.40 L337.70,78.40 L338.20,78.40 L338.70,78.40 L339.20,78.40 L339.70,78.40 L340.20,78.40 L340.70,78.40 L341.20,78.40 L341.70,78.40 L342.20,78.40 L342.70,78.40 L343.20,78.40 L343.70,78.40 L344.20,78.40 L344.70,78.40 L345.20,78.40 L345.70,78.40 L346.20,78.40 L346.70,78.40 L347.20,78.40 L347.70,78.40 L348.20,78.40 L348.70,78.40 L349.20,78.40 L349.70,78.40 L350.20,78.40 L350.70,78.40 L351.20,78.40 L351.70,78.40 L352.20,78.40 L352.70,78.40 L353.20,78.40 L353.70,78.40 L354.20,78.40 L354.70,78.40 L355.20,78.40 L355.70,78.40 L356.20,78.40 L356.70,78.40 L357.20,78.40 L357.70,78.40 L358.20,78.40 L358.70,78.40 L359.20,78.40 L359.70,78.40 L360.20,78.40 L360.70,78.40 L361.20,78.40 L361.70,78.40 L362.20,78.40 L362.70,78.40 L363.20,78.40 L363.70,78.40 L364.20,78.40 L364.70,78.40 L365.20,78.40 L365.70,78.40 L366.20,78.40" stroke="#6e6e6e" stroke-width="1.05" fill="none" stroke-linejoin="round"/>
<path d="M273.70,78.40 L274.20,78.40 L274.70,78.40 L275.20,78.40 L275.70,78.40 L276.20,78.40 L276.70,78.40 L277.20,78.40 L277.70,78.40 L278.20,78.40 L278.70,78.40 L279.20,78.40 L279.70,78.40 L280.20,78.40 L280.70,78.40 L281.20,78.40 L281.70,78.40 L282.20,78.40 L282.70,78.40 L283.20,78.40 L283.70,78.40 L284.20,78.40 L284.70,78.40 L285.20,78.40 L285.70,78.40 L286.20,78.40 L286.70,78.40 L287.20,78.40 L287.70,78.40 L288.20,78.40 L288.70,78.40 L289.20,78.40 L289.70,78.40 L290.20,78.40 L290.70,78.39 L291.20,78.39 L291.70,78.39 L292.20,78.38 L292.70,78.37 L293.20,78.35 L293.70,78.33 L294.20,78.29 L294.70,78.24 L295.20,78.18 L295.70,78.09 L296.20,77.96 L296.70,77.79 L297.20,77.57 L297.70,77.27 L298.20,76.89 L298.70,76.41 L299.20,75.80 L299.70,75.03 L300.20,74.10 L300.70,72.97 L301.20,71.63 L301.70,70.05 L302.20,68.23 L302.70,66.18 L303.20,63.89 L303.70,61.39 L304.20,58.73 L304.70,55.96 L305.20,53.15 L305.70,50.39 L306.20,47.79 L306.70,45.46 L307.20,43.53 L307.70,42.13 L308.20,41.43 L308.70,41.71 L309.20,42.70 L309.70,44.21 L310.20,46.14 L310.70,48.37 L311.20,50.81 L311.70,53.36 L312.20,55.96 L312.70,58.52 L313.20,60.99 L313.70,63.33 L314.20,65.50 L314.70,67.47 L315.20,69.24 L315.70,70.81 L316.20,72.17 L316.70,73.34 L317.20,74.33 L317.70,75.16 L318.20,75.85 L318.70,76.41 L319.20,76.86 L319.70,77.22 L320.20,77.51 L320.70,77.73 L321.20,77.90 L321.70,78.03 L322.20,78.13 L322.70,78.21 L323.20,78.26 L323.70,78.30 L324.20,78.33 L324.70,78.35 L325.20,78.37 L325.70,78.38 L326.20,78.38 L326.70,78.39 L327.20,78.39 L327.70,78.40 L328.20,78.40 L328.70,78.40 L329.20,78.40 L329.70,78.40 L330.20,78.40 L330.70,78.40 L331.20,78.40 L331.70,78.40 L332.20,78.40 L332.70,78.40 L333.20,78.40 L333.70,78.40 L334.20,78.40 L334.70,78.40 L335.20,78.40 L335.70,78.40 L336.20,78.40 L336.70,78.40 L337.20,78.40 L337.70,78.40 L338.20,78.40 L338.70,78.40 L339.20,78.40 L339.70,78.40 L340.20,78.40 L340.70,78.40 L341.20,78.40 L341.70,78.40 L342.20,78.40 L342.70,78.40 L343.20,78.40 L343.70,78.40 L344.20,78.40 L344.70,78.40 L345.20,78.40 L345.70,78.40 L346.20,78.40 L346.70,78.40 L347.20,78.40 L347.70,78.40 L348.20,78.40 L348.70,78.40 L349.20,78.40 L349.70,78.40 L350.20,78.40 L350.70,78.40 L351.20,78.40 L351.70,78.40 L352.20,78.40 L352.70,78.40 L353.20,78.40 L353.70,78.40 L354.20,78.40 L354.70,78.40 L355.20,78.40 L355.70,78.40 L356.20,78.40 L356.70,78.40 L357.20,78.40 L357.70,78.40 L358.20,78.40 L358.70,78.40 L359.20,78.40 L359.70,78.40 L360.20,78.40 L360.70,78.40 L361.20,78.40 L361.70,78.40 L362.20,78.40 L362.70,78.40 L363.20,78.40 L363.70,78.40 L364.20,78.40 L364.70,78.40 L365.20,78.40 L365.70,78.40 L366.20,78.40" stroke="#000" stroke-width="1.65" fill="none" stroke-linejoin="round"/>
<path d="M273.70,78.40 L274.20,78.40 L274.70,78.40 L275.20,78.40 L275.70,78.40 L276.20,78.40 L276.70,78.40 L277.20,78.40 L277.70,78.40 L278.20,78.40 L278.70,78.40 L279.20,78.40 L279.70,78.40 L280.20,78.40 L280.70,78.40 L281.20,78.40 L281.70,78.40 L282.20,78.40 L282.70,78.40 L283.20,78.40 L283.70,78.40 L284.20,78.40 L284.70,78.40 L285.20,78.40 L285.70,78.40 L286.20,78.40 L286.70,78.40 L287.20,78.40 L287.70,78.40 L288.20,78.40 L288.70,78.40 L289.20,78.40 L289.70,78.40 L290.20,78.40 L290.70,78.40 L291.20,78.40 L291.70,78.40 L292.20,78.40 L292.70,78.40 L293.20,78.40 L293.70,78.40 L294.20,78.40 L294.70,78.40 L295.20,78.40 L295.70,78.40 L296.20,78.40 L296.70,78.40 L297.20,78.40 L297.70,78.40 L298.20,78.40 L298.70,78.40 L299.20,78.40 L299.70,78.40 L300.20,78.40 L300.70,78.40 L301.20,78.40 L301.70,78.40 L302.20,78.40 L302.70,78.40 L303.20,78.40 L303.70,78.40 L304.20,78.40 L304.70,78.40 L305.20,78.40 L305.70,78.40 L306.20,78.40 L306.70,78.40 L307.20,78.40 L307.70,78.40 L308.20,78.40 L308.70,78.40 L309.20,78.40 L309.70,78.40 L310.20,78.40 L310.70,78.40 L311.20,78.40 L311.70,78.39 L312.20,78.39 L312.70,78.38 L313.20,78.38 L313.70,78.36 L314.20,78.34 L314.70,78.32 L315.20,78.28 L315.70,78.22 L316.20,78.14 L316.70,78.03 L317.20,77.88 L317.70,77.69 L318.20,77.43 L318.70,77.09 L319.20,76.65 L319.70,76.11 L320.20,75.43 L320.70,74.60 L321.20,73.60 L321.70,72.41 L322.20,71.02 L322.70,69.44 L323.20,67.65 L323.70,65.66 L324.20,63.51 L324.70,61.21 L325.20,58.82 L325.70,56.38 L326.20,53.95 L326.70,51.60 L327.20,49.41 L327.70,47.43 L328.20,45.75 L328.70,44.42 L329.20,43.48 L329.70,42.98 L330.20,42.94 L330.70,43.35 L331.20,44.20 L331.70,45.45 L332.20,47.07 L332.70,48.99 L333.20,51.15 L333.70,53.47 L334.20,55.89 L334.70,58.33 L335.20,60.74 L335.70,63.06 L336.20,65.25 L336.70,67.26 L337.20,69.09 L337.70,70.72 L338.20,72.15 L338.70,73.37 L339.20,74.41 L339.70,75.27 L340.20,75.98 L340.70,76.55 L341.20,77.01 L341.70,77.37 L342.20,77.64 L342.70,77.85 L343.20,78.01 L343.70,78.12 L344.20,78.21 L344.70,78.27 L345.20,78.31 L345.70,78.34 L346.20,78.36 L346.70,78.37 L347.20,78.38 L347.70,78.39 L348.20,78.39 L348.70,78.40 L349.20,78.40 L349.70,78.40 L350.20,78.40 L350.70,78.40 L351.20,78.40 L351.70,78.40 L352.20,78.40 L352.70,78.40 L353.20,78.40 L353.70,78.40 L354.20,78.40 L354.70,78.40 L355.20,78.40 L355.70,78.40 L356.20,78.40 L356.70,78.40 L357.20,78.40 L357.70,78.40 L358.20,78.40 L358.70,78.40 L359.20,78.40 L359.70,78.40 L360.20,78.40 L360.70,78.40 L361.20,78.40 L361.70,78.40 L362.20,78.40 L362.70,78.40 L363.20,78.40 L363.70,78.40 L364.20,78.40 L364.70,78.40 L365.20,78.40 L365.70,78.40 L366.20,78.40" stroke="#8c8c8c" stroke-width="1.0" fill="none" stroke-dasharray="0.8 0.8"/>
<path d="M273.70,78.40 L274.20,78.40 L274.70,78.40 L275.20,78.40 L275.70,78.40 L276.20,78.40 L276.70,78.40 L277.20,78.40 L277.70,78.40 L278.20,78.40 L278.70,78.40 L279.20,78.40 L279.70,78.40 L280.20,78.40 L280.70,78.40 L281.20,78.40 L281.70,78.40 L282.20,78.40 L282.70,78.40 L283.20,78.40 L283.70,78.40 L284.20,78.40 L284.70,78.40 L285.20,78.40 L285.70,78.40 L286.20,78.40 L286.70,78.40 L287.20,78.40 L287.70,78.40 L288.20,78.40 L288.70,78.40 L289.20,78.40 L289.70,78.40 L290.20,78.40 L290.70,78.40 L291.20,78.40 L291.70,78.40 L292.20,78.40 L292.70,78.40 L293.20,78.40 L293.70,78.40 L294.20,78.40 L294.70,78.40 L295.20,78.40 L295.70,78.40 L296.20,78.40 L296.70,78.40 L297.20,78.40 L297.70,78.40 L298.20,78.40 L298.70,78.40 L299.20,78.40 L299.70,78.40 L300.20,78.40 L300.70,78.40 L301.20,78.40 L301.70,78.40 L302.20,78.40 L302.70,78.40 L303.20,78.40 L303.70,78.40 L304.20,78.40 L304.70,78.40 L305.20,78.40 L305.70,78.40 L306.20,78.40 L306.70,78.40 L307.20,78.40 L307.70,78.40 L308.20,78.40 L308.70,78.40 L309.20,78.40 L309.70,78.40 L310.20,78.40 L310.70,78.40 L311.20,78.40 L311.70,78.40 L312.20,78.40 L312.70,78.40 L313.20,78.40 L313.70,78.40 L314.20,78.40 L314.70,78.40 L315.20,78.40 L315.70,78.40 L316.20,78.40 L316.70,78.40 L317.20,78.40 L317.70,78.40 L318.20,78.40 L318.70,78.40 L319.20,78.40 L319.70,78.40 L320.20,78.40 L320.70,78.40 L321.20,78.40 L321.70,78.40 L322.20,78.40 L322.70,78.40 L323.20,78.40 L323.70,78.40 L324.20,78.40 L324.70,78.40 L325.20,78.40 L325.70,78.40 L326.20,78.40 L326.70,78.40 L327.20,78.40 L327.70,78.40 L328.20,78.40 L328.70,78.40 L329.20,78.40 L329.70,78.40 L330.20,78.40 L330.70,78.40 L331.20,78.40 L331.70,78.40 L332.20,78.39 L332.70,78.38 L333.20,78.37 L333.70,78.33 L334.20,78.27 L334.70,78.17 L335.20,77.98 L335.70,77.67 L336.20,77.17 L336.70,76.41 L337.20,75.28 L337.70,73.67 L338.20,71.48 L338.70,68.62 L339.20,65.04 L339.70,60.76 L340.20,55.89 L340.70,50.66 L341.20,45.35 L341.70,40.36 L342.20,36.10 L342.70,32.94 L343.20,31.19 L343.70,31.03 L344.20,32.47 L344.70,35.37 L345.20,39.44 L345.70,44.32 L346.20,49.59 L346.70,54.87 L347.20,59.83 L347.70,64.23 L348.20,67.96 L348.70,70.97 L349.20,73.28 L349.70,75.00 L350.20,76.21 L350.70,77.04 L351.20,77.59 L351.70,77.93 L352.20,78.14 L352.70,78.26 L353.20,78.33 L353.70,78.36 L354.20,78.38 L354.70,78.39 L355.20,78.40 L355.70,78.40 L356.20,78.40 L356.70,78.40 L357.20,78.40 L357.70,78.40 L358.20,78.40 L358.70,78.40 L359.20,78.40 L359.70,78.40 L360.20,78.40 L360.70,78.40 L361.20,78.40 L361.70,78.40 L362.20,78.40 L362.70,78.40 L363.20,78.40 L363.70,78.40 L364.20,78.40 L364.70,78.40 L365.20,78.40 L365.70,78.40 L366.20,78.40" stroke="#222" stroke-width="1.0" fill="none" stroke-dasharray="1.9 1.3"/>
<path d="M273.70,173.30 L274.20,172.46 L274.70,171.31 L275.20,169.81 L275.70,167.89 L276.20,165.50 L276.70,162.60 L277.20,159.18 L277.70,155.27 L278.20,150.93 L278.70,146.28 L279.20,141.48 L279.70,136.73 L280.20,132.24 L280.70,128.26 L281.20,125.01 L281.70,122.67 L282.20,121.41 L282.70,121.29 L283.20,122.33 L283.70,124.46 L284.20,127.55 L284.70,131.40 L285.20,135.80 L285.70,140.52 L286.20,145.33 L286.70,150.02 L287.20,154.43 L287.70,158.43 L288.20,161.95 L288.70,164.96 L289.20,167.45 L289.70,169.46 L290.20,171.04 L290.70,172.25 L291.20,173.16 L291.70,173.81 L292.20,174.28 L292.70,174.60 L293.20,174.82 L293.70,174.96 L294.20,175.06 L294.70,175.11 L295.20,175.15 L295.70,175.17 L296.20,175.18 L296.70,175.19 L297.20,175.20 L297.70,175.20 L298.20,175.20 L298.70,175.20 L299.20,175.20 L299.70,175.20 L300.20,175.20 L300.70,175.20 L301.20,175.20 L301.70,175.20 L302.20,175.20 L302.70,175.20 L303.20,175.20 L303.70,175.20 L304.20,175.20 L304.70,175.20 L305.20,175.20 L305.70,175.20 L306.20,175.20 L306.70,175.20 L307.20,175.20 L307.70,175.20 L308.20,175.20 L308.70,175.20 L309.20,175.20 L309.70,175.20 L310.20,175.20 L310.70,175.20 L311.20,175.20 L311.70,175.20 L312.20,175.20 L312.70,175.20 L313.20,175.20 L313.70,175.20 L314.20,175.20 L314.70,175.20 L315.20,175.20 L315.70,175.20 L316.20,175.20 L316.70,175.20 L317.20,175.20 L317.70,175.20 L318.20,175.20 L318.70,175.20 L319.20,175.20 L319.70,175.20 L320.20,175.20 L320.70,175.20 L321.20,175.20 L321.70,175.20 L322.20,175.20 L322.70,175.20 L323.20,175.20 L323.70,175.20 L324.20,175.20 L324.70,175.20 L325.20,175.20 L325.70,175.20 L326.20,175.20 L326.70,175.20 L327.20,175.20 L327.70,175.20 L328.20,175.20 L328.70,175.20 L329.20,175.20 L329.70,175.20 L330.20,175.20 L330.70,175.20 L331.20,175.20 L331.70,175.20 L332.20,175.20 L332.70,175.20 L333.20,175.20 L333.70,175.20 L334.20,175.20 L334.70,175.20 L335.20,175.20 L335.70,175.20 L336.20,175.20 L336.70,175.20 L337.20,175.20 L337.70,175.20 L338.20,175.20 L338.70,175.20 L339.20,175.20 L339.70,175.20 L340.20,175.20 L340.70,175.20 L341.20,175.20 L341.70,175.20 L342.20,175.20 L342.70,175.20 L343.20,175.20 L343.70,175.20 L344.20,175.20 L344.70,175.20 L345.20,175.20 L345.70,175.20 L346.20,175.20 L346.70,175.20 L347.20,175.20 L347.70,175.20 L348.20,175.20 L348.70,175.20 L349.20,175.20 L349.70,175.20 L350.20,175.20 L350.70,175.20 L351.20,175.20 L351.70,175.20 L352.20,175.20 L352.70,175.20 L353.20,175.20 L353.70,175.20 L354.20,175.20 L354.70,175.20 L355.20,175.20 L355.70,175.20 L356.20,175.20 L356.70,175.20 L357.20,175.20 L357.70,175.20 L358.20,175.20 L358.70,175.20 L359.20,175.20 L359.70,175.20 L360.20,175.20 L360.70,175.20 L361.20,175.20 L361.70,175.20 L362.20,175.20 L362.70,175.20 L363.20,175.20 L363.70,175.20 L364.20,175.20 L364.70,175.20 L365.20,175.20 L365.70,175.20 L366.20,175.20" stroke="#8c8c8c" stroke-width="1.0" fill="none" stroke-dasharray="0.8 0.8"/>
<path d="M273.70,172.83 L274.20,171.77 L274.70,170.35 L275.20,168.50 L275.70,166.15 L276.20,163.25 L276.70,159.78 L277.20,155.76 L277.70,151.24 L278.20,146.34 L278.70,141.23 L279.20,136.13 L279.70,131.28 L280.20,126.94 L280.70,123.38 L281.20,120.82 L281.70,119.43 L282.20,119.30 L282.70,120.45 L283.20,122.78 L283.70,126.16 L284.20,130.36 L284.70,135.13 L285.20,140.21 L285.70,145.33 L286.20,150.29 L286.70,154.89 L287.20,159.02 L287.70,162.60 L288.20,165.61 L288.70,168.07 L289.20,170.02 L289.70,171.52 L290.20,172.64 L290.70,173.47 L291.20,174.05 L291.70,174.46 L292.20,174.73 L292.70,174.91 L293.20,175.02 L293.70,175.10 L294.20,175.14 L294.70,175.17 L295.20,175.18 L295.70,175.19 L296.20,175.19 L296.70,175.20 L297.20,175.20 L297.70,175.20 L298.20,175.20 L298.70,175.20 L299.20,175.20 L299.70,175.20 L300.20,175.20 L300.70,175.20 L301.20,175.20 L301.70,175.20 L302.20,175.20 L302.70,175.20 L303.20,175.20 L303.70,175.20 L304.20,175.20 L304.70,175.20 L305.20,175.20 L305.70,175.20 L306.20,175.20 L306.70,175.20 L307.20,175.20 L307.70,175.20 L308.20,175.20 L308.70,175.20 L309.20,175.20 L309.70,175.20 L310.20,175.20 L310.70,175.20 L311.20,175.20 L311.70,175.20 L312.20,175.20 L312.70,175.20 L313.20,175.20 L313.70,175.20 L314.20,175.20 L314.70,175.20 L315.20,175.20 L315.70,175.20 L316.20,175.20 L316.70,175.20 L317.20,175.20 L317.70,175.20 L318.20,175.20 L318.70,175.20 L319.20,175.20 L319.70,175.20 L320.20,175.20 L320.70,175.20 L321.20,175.20 L321.70,175.20 L322.20,175.20 L322.70,175.20 L323.20,175.20 L323.70,175.20 L324.20,175.20 L324.70,175.20 L325.20,175.20 L325.70,175.20 L326.20,175.20 L326.70,175.20 L327.20,175.20 L327.70,175.20 L328.20,175.20 L328.70,175.20 L329.20,175.20 L329.70,175.20 L330.20,175.20 L330.70,175.20 L331.20,175.20 L331.70,175.20 L332.20,175.20 L332.70,175.20 L333.20,175.20 L333.70,175.20 L334.20,175.20 L334.70,175.20 L335.20,175.20 L335.70,175.20 L336.20,175.20 L336.70,175.20 L337.20,175.20 L337.70,175.20 L338.20,175.20 L338.70,175.20 L339.20,175.20 L339.70,175.20 L340.20,175.20 L340.70,175.20 L341.20,175.20 L341.70,175.20 L342.20,175.20 L342.70,175.20 L343.20,175.20 L343.70,175.20 L344.20,175.20 L344.70,175.20 L345.20,175.20 L345.70,175.20 L346.20,175.20 L346.70,175.20 L347.20,175.20 L347.70,175.20 L348.20,175.20 L348.70,175.20 L349.20,175.20 L349.70,175.20 L350.20,175.20 L350.70,175.20 L351.20,175.20 L351.70,175.20 L352.20,175.20 L352.70,175.20 L353.20,175.20 L353.70,175.20 L354.20,175.20 L354.70,175.20 L355.20,175.20 L355.70,175.20 L356.20,175.20 L356.70,175.20 L357.20,175.20 L357.70,175.20 L358.20,175.20 L358.70,175.20 L359.20,175.20 L359.70,175.20 L360.20,175.20 L360.70,175.20 L361.20,175.20 L361.70,175.20 L362.20,175.20 L362.70,175.20 L363.20,175.20 L363.70,175.20 L364.20,175.20 L364.70,175.20 L365.20,175.20 L365.70,175.20 L366.20,175.20" stroke="#2a2a2a" stroke-width="1.0" fill="none" stroke-linejoin="round"/>
<path d="M273.70,175.20 L274.20,175.20 L274.70,175.20 L275.20,175.20 L275.70,175.20 L276.20,175.20 L276.70,175.20 L277.20,175.20 L277.70,175.20 L278.20,175.20 L278.70,175.20 L279.20,175.20 L279.70,175.20 L280.20,175.20 L280.70,175.20 L281.20,175.20 L281.70,175.20 L282.20,175.20 L282.70,175.20 L283.20,175.20 L283.70,175.20 L284.20,175.20 L284.70,175.20 L285.20,175.20 L285.70,175.20 L286.20,175.20 L286.70,175.20 L287.20,175.20 L287.70,175.20 L288.20,175.20 L288.70,175.20 L289.20,175.20 L289.70,175.20 L290.20,175.20 L290.70,175.20 L291.20,175.20 L291.70,175.20 L292.20,175.20 L292.70,175.20 L293.20,175.20 L293.70,175.20 L294.20,175.20 L294.70,175.20 L295.20,175.20 L295.70,175.20 L296.20,175.20 L296.70,175.20 L297.20,175.20 L297.70,175.20 L298.20,175.20 L298.70,175.20 L299.20,175.20 L299.70,175.20 L300.20,175.20 L300.70,175.20 L301.20,175.20 L301.70,175.20 L302.20,175.20 L302.70,175.20 L303.20,175.20 L303.70,175.20 L304.20,175.20 L304.70,175.20 L305.20,175.20 L305.70,175.20 L306.20,175.20 L306.70,175.20 L307.20,175.20 L307.70,175.20 L308.20,175.19 L308.70,175.19 L309.20,175.19 L309.70,175.18 L310.20,175.17 L310.70,175.16 L311.20,175.14 L311.70,175.12 L312.20,175.09 L312.70,175.04 L313.20,174.98 L313.70,174.89 L314.20,174.78 L314.70,174.64 L315.20,174.45 L315.70,174.20 L316.20,173.90 L316.70,173.51 L317.20,173.03 L317.70,172.45 L318.20,171.74 L318.70,170.90 L319.20,169.89 L319.70,168.73 L320.20,167.38 L320.70,165.85 L321.20,164.12 L321.70,162.22 L322.20,160.13 L322.70,157.88 L323.20,155.50 L323.70,153.01 L324.20,150.45 L324.70,147.88 L325.20,145.33 L325.70,142.88 L326.20,140.57 L326.70,138.47 L327.20,136.62 L327.70,135.09 L328.20,133.91 L328.70,133.11 L329.20,132.73 L329.70,132.79 L330.20,133.34 L330.70,134.36 L331.20,135.83 L331.70,137.69 L332.20,139.89 L332.70,142.34 L333.20,144.99 L333.70,147.74 L334.20,150.54 L334.70,153.32 L335.20,156.01 L335.70,158.56 L336.20,160.95 L336.70,163.14 L337.20,165.11 L337.70,166.85 L338.20,168.38 L338.70,169.69 L339.20,170.81 L339.70,171.74 L340.20,172.50 L340.70,173.12 L341.20,173.62 L341.70,174.01 L342.20,174.31 L342.70,174.55 L343.20,174.73 L343.70,174.86 L344.20,174.96 L344.70,175.03 L345.20,175.08 L345.70,175.12 L346.20,175.15 L346.70,175.16 L347.20,175.18 L347.70,175.18 L348.20,175.19 L348.70,175.19 L349.20,175.20 L349.70,175.20 L350.20,175.20 L350.70,175.20 L351.20,175.20 L351.70,175.20 L352.20,175.20 L352.70,175.20 L353.20,175.20 L353.70,175.20 L354.20,175.20 L354.70,175.20 L355.20,175.20 L355.70,175.20 L356.20,175.20 L356.70,175.20 L357.20,175.20 L357.70,175.20 L358.20,175.20 L358.70,175.20 L359.20,175.20 L359.70,175.20 L360.20,175.20 L360.70,175.20 L361.20,175.20 L361.70,175.20 L362.20,175.20 L362.70,175.20 L363.20,175.20 L363.70,175.20 L364.20,175.20 L364.70,175.20 L365.20,175.20 L365.70,175.20 L366.20,175.20" stroke="#222" stroke-width="1.0" fill="none" stroke-dasharray="1.9 1.3"/>
<path d="M389.30,78.40 L389.80,78.40 L390.30,78.40 L390.80,78.40 L391.30,78.40 L391.80,78.40 L392.30,78.40 L392.80,78.40 L393.30,78.40 L393.80,78.40 L394.30,78.40 L394.80,78.40 L395.30,78.40 L395.80,78.40 L396.30,78.40 L396.80,78.40 L397.30,78.40 L397.80,78.39 L398.30,78.38 L398.80,78.35 L399.30,78.31 L399.80,78.22 L400.30,78.07 L400.80,77.82 L401.30,77.42 L401.80,76.80 L402.30,75.90 L402.80,74.64 L403.30,72.96 L403.80,70.79 L404.30,68.14 L404.80,65.03 L405.30,61.55 L405.80,57.85 L406.30,54.10 L406.80,50.53 L407.30,47.32 L407.80,44.66 L408.30,42.68 L408.80,41.43 L409.30,40.87 L409.80,40.83 L410.30,41.33 L410.80,42.59 L411.30,44.67 L411.80,47.52 L412.30,50.96 L412.80,54.80 L413.30,58.78 L413.80,62.66 L414.30,66.23 L414.80,69.34 L415.30,71.92 L415.80,73.94 L416.30,75.46 L416.80,76.54 L417.30,77.28 L417.80,77.75 L418.30,78.04 L418.80,78.21 L419.30,78.30 L419.80,78.35 L420.30,78.38 L420.80,78.39 L421.30,78.40 L421.80,78.40 L422.30,78.40 L422.80,78.40 L423.30,78.40 L423.80,78.40 L424.30,78.40 L424.80,78.40 L425.30,78.40 L425.80,78.40 L426.30,78.40 L426.80,78.40 L427.30,78.40 L427.80,78.40 L428.30,78.40 L428.80,78.40 L429.30,78.40 L429.80,78.40 L430.30,78.40 L430.80,78.40 L431.30,78.40 L431.80,78.40 L432.30,78.40 L432.80,78.40 L433.30,78.40 L433.80,78.40 L434.30,78.40 L434.80,78.40 L435.30,78.40 L435.80,78.40 L436.30,78.40 L436.80,78.40 L437.30,78.40 L437.80,78.40 L438.30,78.40 L438.80,78.40 L439.30,78.40 L439.80,78.40 L440.30,78.40 L440.80,78.40 L441.30,78.40 L441.80,78.40 L442.30,78.40 L442.80,78.40 L443.30,78.40 L443.80,78.40 L444.30,78.40 L444.80,78.40 L445.30,78.40 L445.80,78.40 L446.30,78.40 L446.80,78.40 L447.30,78.40 L447.80,78.40 L448.30,78.40 L448.80,78.40 L449.30,78.40 L449.80,78.40 L450.30,78.40 L450.80,78.40 L451.30,78.40 L451.80,78.40 L452.30,78.40 L452.80,78.40 L453.30,78.40 L453.80,78.40 L454.30,78.40 L454.80,78.40 L455.30,78.40 L455.80,78.40 L456.30,78.40 L456.80,78.40 L457.30,78.40 L457.80,78.40 L458.30,78.40 L458.80,78.40 L459.30,78.40 L459.80,78.40 L460.30,78.40 L460.80,78.40 L461.30,78.40 L461.80,78.40 L462.30,78.40 L462.80,78.40 L463.30,78.40 L463.80,78.40 L464.30,78.40 L464.80,78.40 L465.30,78.40 L465.80,78.40 L466.30,78.40 L466.80,78.40 L467.30,78.40 L467.80,78.40 L468.30,78.40 L468.80,78.40 L469.30,78.40 L469.80,78.40 L470.30,78.40 L470.80,78.40 L471.30,78.40 L471.80,78.40 L472.30,78.40 L472.80,78.40 L473.30,78.40 L473.80,78.40 L474.30,78.40 L474.80,78.40 L475.30,78.40 L475.80,78.40 L476.30,78.40 L476.80,78.40 L477.30,78.40 L477.80,78.40 L478.30,78.40 L478.80,78.40 L479.30,78.40 L479.80,78.40 L480.30,78.40 L480.80,78.40 L481.30,78.40 L481.80,78.40" stroke="#6e6e6e" stroke-width="1.05" fill="none" stroke-linejoin="round"/>
<path d="M389.30,78.40 L389.80,78.40 L390.30,78.40 L390.80,78.40 L391.30,78.40 L391.80,78.40 L392.30,78.40 L392.80,78.40 L393.30,78.40 L393.80,78.40 L394.30,78.40 L394.80,78.40 L395.30,78.40 L395.80,78.40 L396.30,78.40 L396.80,78.40 L397.30,78.40 L397.80,78.40 L398.30,78.40 L398.80,78.40 L399.30,78.40 L399.80,78.40 L400.30,78.40 L400.80,78.40 L401.30,78.40 L401.80,78.40 L402.30,78.40 L402.80,78.40 L403.30,78.40 L403.80,78.40 L404.30,78.39 L404.80,78.39 L405.30,78.37 L405.80,78.34 L406.30,78.29 L406.80,78.21 L407.30,78.06 L407.80,77.83 L408.30,77.47 L408.80,76.94 L409.30,76.18 L409.80,75.13 L410.30,73.75 L410.80,71.99 L411.30,69.85 L411.80,67.35 L412.30,64.53 L412.80,61.50 L413.30,58.38 L413.80,55.33 L414.30,52.50 L414.80,50.03 L415.30,48.05 L415.80,46.62 L416.30,45.76 L416.80,45.42 L417.30,45.45 L417.80,45.91 L418.30,46.95 L418.80,48.59 L419.30,50.79 L419.80,53.47 L420.30,56.48 L420.80,59.67 L421.30,62.85 L421.80,65.88 L422.30,68.63 L422.80,71.02 L423.30,73.01 L423.80,74.59 L424.30,75.80 L424.80,76.69 L425.30,77.31 L425.80,77.74 L426.30,78.01 L426.80,78.18 L427.30,78.28 L427.80,78.34 L428.30,78.37 L428.80,78.38 L429.30,78.39 L429.80,78.40 L430.30,78.40 L430.80,78.40 L431.30,78.40 L431.80,78.40 L432.30,78.40 L432.80,78.40 L433.30,78.40 L433.80,78.40 L434.30,78.40 L434.80,78.40 L435.30,78.40 L435.80,78.40 L436.30,78.40 L436.80,78.40 L437.30,78.40 L437.80,78.40 L438.30,78.40 L438.80,78.40 L439.30,78.40 L439.80,78.40 L440.30,78.40 L440.80,78.40 L441.30,78.40 L441.80,78.40 L442.30,78.40 L442.80,78.40 L443.30,78.40 L443.80,78.40 L444.30,78.40 L444.80,78.40 L445.30,78.40 L445.80,78.40 L446.30,78.40 L446.80,78.40 L447.30,78.40 L447.80,78.40 L448.30,78.40 L448.80,78.40 L449.30,78.40 L449.80,78.40 L450.30,78.40 L450.80,78.40 L451.30,78.40 L451.80,78.40 L452.30,78.40 L452.80,78.40 L453.30,78.40 L453.80,78.40 L454.30,78.40 L454.80,78.40 L455.30,78.40 L455.80,78.40 L456.30,78.40 L456.80,78.40 L457.30,78.40 L457.80,78.40 L458.30,78.40 L458.80,78.40 L459.30,78.40 L459.80,78.40 L460.30,78.40 L460.80,78.40 L461.30,78.40 L461.80,78.40 L462.30,78.40 L462.80,78.40 L463.30,78.40 L463.80,78.40 L464.30,78.40 L464.80,78.40 L465.30,78.40 L465.80,78.40 L466.30,78.40 L466.80,78.40 L467.30,78.40 L467.80,78.40 L468.30,78.40 L468.80,78.40 L469.30,78.40 L469.80,78.40 L470.30,78.40 L470.80,78.40 L471.30,78.40 L471.80,78.40 L472.30,78.40 L472.80,78.40 L473.30,78.40 L473.80,78.40 L474.30,78.40 L474.80,78.40 L475.30,78.40 L475.80,78.40 L476.30,78.40 L476.80,78.40 L477.30,78.40 L477.80,78.40 L478.30,78.40 L478.80,78.40 L479.30,78.40 L479.80,78.40 L480.30,78.40 L480.80,78.40 L481.30,78.40 L481.80,78.40" stroke="#000" stroke-width="1.65" fill="none" stroke-linejoin="round"/>
<path d="M389.30,78.40 L389.80,78.40 L390.30,78.40 L390.80,78.40 L391.30,78.40 L391.80,78.40 L392.30,78.40 L392.80,78.40 L393.30,78.40 L393.80,78.40 L394.30,78.40 L394.80,78.40 L395.30,78.40 L395.80,78.40 L396.30,78.40 L396.80,78.40 L397.30,78.40 L397.80,78.40 L398.30,78.40 L398.80,78.40 L399.30,78.40 L399.80,78.40 L400.30,78.40 L400.80,78.40 L401.30,78.40 L401.80,78.40 L402.30,78.40 L402.80,78.40 L403.30,78.40 L403.80,78.40 L404.30,78.40 L404.80,78.40 L405.30,78.40 L405.80,78.40 L406.30,78.40 L406.80,78.40 L407.30,78.40 L407.80,78.40 L408.30,78.40 L408.80,78.40 L409.30,78.40 L409.80,78.40 L410.30,78.40 L410.80,78.40 L411.30,78.40 L411.80,78.40 L412.30,78.40 L412.80,78.40 L413.30,78.40 L413.80,78.40 L414.30,78.40 L414.80,78.40 L415.30,78.40 L415.80,78.40 L416.30,78.40 L416.80,78.40 L417.30,78.40 L417.80,78.40 L418.30,78.40 L418.80,78.40 L419.30,78.40 L419.80,78.40 L420.30,78.40 L420.80,78.40 L421.30,78.40 L421.80,78.40 L422.30,78.40 L422.80,78.40 L423.30,78.40 L423.80,78.40 L424.30,78.40 L424.80,78.40 L425.30,78.40 L425.80,78.40 L426.30,78.40 L426.80,78.39 L427.30,78.39 L427.80,78.38 L428.30,78.36 L428.80,78.33 L429.30,78.29 L429.80,78.23 L430.30,78.14 L430.80,78.00 L431.30,77.79 L431.80,77.51 L432.30,77.11 L432.80,76.57 L433.30,75.86 L433.80,74.93 L434.30,73.75 L434.80,72.30 L435.30,70.55 L435.80,68.49 L436.30,66.12 L436.80,63.48 L437.30,60.61 L437.80,57.60 L438.30,54.55 L438.80,51.57 L439.30,48.80 L439.80,46.37 L440.30,44.39 L440.80,42.99 L441.30,42.23 L441.80,42.17 L442.30,42.96 L442.80,44.56 L443.30,46.88 L443.80,49.74 L444.30,52.97 L444.80,56.38 L445.30,59.80 L445.80,63.06 L446.30,66.06 L446.80,68.71 L447.30,70.97 L447.80,72.84 L448.30,74.35 L448.80,75.51 L449.30,76.39 L449.80,77.04 L450.30,77.50 L450.80,77.82 L451.30,78.03 L451.80,78.17 L452.30,78.26 L452.80,78.32 L453.30,78.35 L453.80,78.37 L454.30,78.39 L454.80,78.39 L455.30,78.40 L455.80,78.40 L456.30,78.40 L456.80,78.40 L457.30,78.40 L457.80,78.40 L458.30,78.40 L458.80,78.40 L459.30,78.40 L459.80,78.40 L460.30,78.40 L460.80,78.40 L461.30,78.40 L461.80,78.40 L462.30,78.40 L462.80,78.40 L463.30,78.40 L463.80,78.40 L464.30,78.40 L464.80,78.40 L465.30,78.40 L465.80,78.40 L466.30,78.40 L466.80,78.40 L467.30,78.40 L467.80,78.40 L468.30,78.40 L468.80,78.40 L469.30,78.40 L469.80,78.40 L470.30,78.40 L470.80,78.40 L471.30,78.40 L471.80,78.40 L472.30,78.40 L472.80,78.40 L473.30,78.40 L473.80,78.40 L474.30,78.40 L474.80,78.40 L475.30,78.40 L475.80,78.40 L476.30,78.40 L476.80,78.40 L477.30,78.40 L477.80,78.40 L478.30,78.40 L478.80,78.40 L479.30,78.40 L479.80,78.40 L480.30,78.40 L480.80,78.40 L481.30,78.40 L481.80,78.40" stroke="#8c8c8c" stroke-width="1.0" fill="none" stroke-dasharray="0.8 0.8"/>
<path d="M389.30,78.40 L389.80,78.40 L390.30,78.40 L390.80,78.40 L391.30,78.40 L391.80,78.40 L392.30,78.40 L392.80,78.40 L393.30,78.40 L393.80,78.40 L394.30,78.40 L394.80,78.40 L395.30,78.40 L395.80,78.40 L396.30,78.40 L396.80,78.40 L397.30,78.40 L397.80,78.40 L398.30,78.40 L398.80,78.40 L399.30,78.40 L399.80,78.40 L400.30,78.40 L400.80,78.40 L401.30,78.40 L401.80,78.40 L402.30,78.40 L402.80,78.40 L403.30,78.40 L403.80,78.40 L404.30,78.40 L404.80,78.40 L405.30,78.40 L405.80,78.40 L406.30,78.40 L406.80,78.40 L407.30,78.40 L407.80,78.40 L408.30,78.40 L408.80,78.40 L409.30,78.40 L409.80,78.40 L410.30,78.40 L410.80,78.40 L411.30,78.40 L411.80,78.40 L412.30,78.40 L412.80,78.40 L413.30,78.40 L413.80,78.40 L414.30,78.40 L414.80,78.40 L415.30,78.40 L415.80,78.40 L416.30,78.40 L416.80,78.40 L417.30,78.40 L417.80,78.40 L418.30,78.40 L418.80,78.40 L419.30,78.40 L419.80,78.40 L420.30,78.40 L420.80,78.40 L421.30,78.40 L421.80,78.40 L422.30,78.40 L422.80,78.40 L423.30,78.40 L423.80,78.40 L424.30,78.40 L424.80,78.40 L425.30,78.40 L425.80,78.40 L426.30,78.40 L426.80,78.40 L427.30,78.40 L427.80,78.40 L428.30,78.40 L428.80,78.40 L429.30,78.40 L429.80,78.40 L430.30,78.40 L430.80,78.40 L431.30,78.40 L431.80,78.40 L432.30,78.40 L432.80,78.40 L433.30,78.40 L433.80,78.40 L434.30,78.40 L434.80,78.40 L435.30,78.40 L435.80,78.40 L436.30,78.40 L436.80,78.40 L437.30,78.40 L437.80,78.40 L438.30,78.40 L438.80,78.40 L439.30,78.40 L439.80,78.40 L440.30,78.40 L440.80,78.40 L441.30,78.40 L441.80,78.40 L442.30,78.40 L442.80,78.40 L443.30,78.40 L443.80,78.40 L444.30,78.40 L444.80,78.40 L445.30,78.40 L445.80,78.40 L446.30,78.40 L446.80,78.40 L447.30,78.40 L447.80,78.40 L448.30,78.40 L448.80,78.40 L449.30,78.40 L449.80,78.40 L450.30,78.40 L450.80,78.40 L451.30,78.39 L451.80,78.39 L452.30,78.37 L452.80,78.35 L453.30,78.30 L453.80,78.22 L454.30,78.08 L454.80,77.85 L455.30,77.49 L455.80,76.94 L456.30,76.11 L456.80,74.93 L457.30,73.31 L457.80,71.15 L458.30,68.38 L458.80,64.97 L459.30,60.96 L459.80,56.43 L460.30,51.56 L460.80,46.61 L461.30,41.89 L461.80,37.74 L462.30,34.49 L462.80,32.41 L463.30,31.70 L463.80,32.41 L464.30,34.49 L464.80,37.74 L465.30,41.89 L465.80,46.61 L466.30,51.56 L466.80,56.43 L467.30,60.96 L467.80,64.97 L468.30,68.38 L468.80,71.15 L469.30,73.31 L469.80,74.93 L470.30,76.11 L470.80,76.94 L471.30,77.49 L471.80,77.85 L472.30,78.08 L472.80,78.22 L473.30,78.30 L473.80,78.35 L474.30,78.37 L474.80,78.39 L475.30,78.39 L475.80,78.40 L476.30,78.40 L476.80,78.40 L477.30,78.40 L477.80,78.40 L478.30,78.40 L478.80,78.40 L479.30,78.40 L479.80,78.40 L480.30,78.40 L480.80,78.40 L481.30,78.40 L481.80,78.40" stroke="#222" stroke-width="1.0" fill="none" stroke-dasharray="1.9 1.3"/>
<path d="M389.30,175.19 L389.80,175.19 L390.30,175.18 L390.80,175.16 L391.30,175.14 L391.80,175.10 L392.30,175.03 L392.80,174.93 L393.30,174.78 L393.80,174.56 L394.30,174.23 L394.80,173.78 L395.30,173.15 L395.80,172.31 L396.30,171.20 L396.80,169.78 L397.30,168.00 L397.80,165.83 L398.30,163.25 L398.80,160.28 L399.30,156.93 L399.80,153.30 L400.30,149.46 L400.80,145.57 L401.30,141.78 L401.80,138.27 L402.30,135.21 L402.80,132.77 L403.30,131.09 L403.80,130.27 L404.30,130.37 L404.80,131.36 L405.30,133.20 L405.80,135.77 L406.30,138.94 L406.80,142.52 L407.30,146.35 L407.80,150.24 L408.30,154.04 L408.80,157.63 L409.30,160.90 L409.80,163.80 L410.30,166.29 L410.80,168.38 L411.30,170.09 L411.80,171.44 L412.30,172.50 L412.80,173.29 L413.30,173.88 L413.80,174.31 L414.30,174.61 L414.80,174.81 L415.30,174.95 L415.80,175.05 L416.30,175.11 L416.80,175.14 L417.30,175.17 L417.80,175.18 L418.30,175.19 L418.80,175.19 L419.30,175.20 L419.80,175.20 L420.30,175.20 L420.80,175.20 L421.30,175.20 L421.80,175.20 L422.30,175.20 L422.80,175.20 L423.30,175.20 L423.80,175.20 L424.30,175.20 L424.80,175.20 L425.30,175.20 L425.80,175.20 L426.30,175.20 L426.80,175.20 L427.30,175.20 L427.80,175.20 L428.30,175.20 L428.80,175.20 L429.30,175.20 L429.80,175.20 L430.30,175.20 L430.80,175.20 L431.30,175.20 L431.80,175.20 L432.30,175.20 L432.80,175.20 L433.30,175.20 L433.80,175.20 L434.30,175.20 L434.80,175.20 L435.30,175.20 L435.80,175.20 L436.30,175.20 L436.80,175.20 L437.30,175.20 L437.80,175.20 L438.30,175.20 L438.80,175.20 L439.30,175.20 L439.80,175.20 L440.30,175.20 L440.80,175.20 L441.30,175.20 L441.80,175.20 L442.30,175.20 L442.80,175.20 L443.30,175.20 L443.80,175.20 L444.30,175.20 L444.80,175.20 L445.30,175.20 L445.80,175.20 L446.30,175.20 L446.80,175.20 L447.30,175.20 L447.80,175.20 L448.30,175.20 L448.80,175.20 L449.30,175.20 L449.80,175.20 L450.30,175.20 L450.80,175.20 L451.30,175.20 L451.80,175.20 L452.30,175.20 L452.80,175.20 L453.30,175.20 L453.80,175.20 L454.30,175.20 L454.80,175.20 L455.30,175.20 L455.80,175.20 L456.30,175.20 L456.80,175.20 L457.30,175.20 L457.80,175.20 L458.30,175.20 L458.80,175.20 L459.30,175.20 L459.80,175.20 L460.30,175.20 L460.80,175.20 L461.30,175.20 L461.80,175.20 L462.30,175.20 L462.80,175.20 L463.30,175.20 L463.80,175.20 L464.30,175.20 L464.80,175.20 L465.30,175.20 L465.80,175.20 L466.30,175.20 L466.80,175.20 L467.30,175.20 L467.80,175.20 L468.30,175.20 L468.80,175.20 L469.30,175.20 L469.80,175.20 L470.30,175.20 L470.80,175.20 L471.30,175.20 L471.80,175.20 L472.30,175.20 L472.80,175.20 L473.30,175.20 L473.80,175.20 L474.30,175.20 L474.80,175.20 L475.30,175.20 L475.80,175.20 L476.30,175.20 L476.80,175.20 L477.30,175.20 L477.80,175.20 L478.30,175.20 L478.80,175.20 L479.30,175.20 L479.80,175.20 L480.30,175.20 L480.80,175.20 L481.30,175.20 L481.80,175.20" stroke="#8c8c8c" stroke-width="1.0" fill="none" stroke-dasharray="0.8 0.8"/>
<path d="M389.30,175.20 L389.80,175.19 L390.30,175.19 L390.80,175.18 L391.30,175.16 L391.80,175.13 L392.30,175.09 L392.80,175.02 L393.30,174.92 L393.80,174.76 L394.30,174.53 L394.80,174.19 L395.30,173.71 L395.80,173.06 L396.30,172.18 L396.80,171.02 L397.30,169.54 L397.80,167.68 L398.30,165.41 L398.80,162.72 L399.30,159.61 L399.80,156.12 L400.30,152.32 L400.80,148.32 L401.30,144.26 L401.80,140.30 L402.30,136.63 L402.80,133.43 L403.30,130.88 L403.80,129.13 L404.30,128.28 L404.80,128.39 L405.30,129.56 L405.80,131.71 L406.30,134.70 L406.80,138.33 L407.30,142.41 L407.80,146.69 L408.30,150.98 L408.80,155.09 L409.30,158.88 L409.80,162.26 L410.30,165.17 L410.80,167.60 L411.30,169.58 L411.80,171.13 L412.30,172.32 L412.80,173.21 L413.30,173.86 L413.80,174.31 L414.30,174.63 L414.80,174.84 L415.30,174.98 L415.80,175.07 L416.30,175.12 L416.80,175.15 L417.30,175.17 L417.80,175.19 L418.30,175.19 L418.80,175.20 L419.30,175.20 L419.80,175.20 L420.30,175.20 L420.80,175.20 L421.30,175.20 L421.80,175.20 L422.30,175.20 L422.80,175.20 L423.30,175.20 L423.80,175.20 L424.30,175.20 L424.80,175.20 L425.30,175.20 L425.80,175.20 L426.30,175.20 L426.80,175.20 L427.30,175.20 L427.80,175.20 L428.30,175.20 L428.80,175.20 L429.30,175.20 L429.80,175.20 L430.30,175.20 L430.80,175.20 L431.30,175.20 L431.80,175.20 L432.30,175.20 L432.80,175.20 L433.30,175.20 L433.80,175.20 L434.30,175.20 L434.80,175.20 L435.30,175.20 L435.80,175.20 L436.30,175.20 L436.80,175.20 L437.30,175.20 L437.80,175.20 L438.30,175.20 L438.80,175.20 L439.30,175.20 L439.80,175.20 L440.30,175.20 L440.80,175.20 L441.30,175.20 L441.80,175.20 L442.30,175.20 L442.80,175.20 L443.30,175.20 L443.80,175.20 L444.30,175.20 L444.80,175.20 L445.30,175.20 L445.80,175.20 L446.30,175.20 L446.80,175.20 L447.30,175.20 L447.80,175.20 L448.30,175.20 L448.80,175.20 L449.30,175.20 L449.80,175.20 L450.30,175.20 L450.80,175.20 L451.30,175.20 L451.80,175.20 L452.30,175.20 L452.80,175.20 L453.30,175.20 L453.80,175.20 L454.30,175.20 L454.80,175.20 L455.30,175.20 L455.80,175.20 L456.30,175.20 L456.80,175.20 L457.30,175.20 L457.80,175.20 L458.30,175.20 L458.80,175.20 L459.30,175.20 L459.80,175.20 L460.30,175.20 L460.80,175.20 L461.30,175.20 L461.80,175.20 L462.30,175.20 L462.80,175.20 L463.30,175.20 L463.80,175.20 L464.30,175.20 L464.80,175.20 L465.30,175.20 L465.80,175.20 L466.30,175.20 L466.80,175.20 L467.30,175.20 L467.80,175.20 L468.30,175.20 L468.80,175.20 L469.30,175.20 L469.80,175.20 L470.30,175.20 L470.80,175.20 L471.30,175.20 L471.80,175.20 L472.30,175.20 L472.80,175.20 L473.30,175.20 L473.80,175.20 L474.30,175.20 L474.80,175.20 L475.30,175.20 L475.80,175.20 L476.30,175.20 L476.80,175.20 L477.30,175.20 L477.80,175.20 L478.30,175.20 L478.80,175.20 L479.30,175.20 L479.80,175.20 L480.30,175.20 L480.80,175.20 L481.30,175.20 L481.80,175.20" stroke="#2a2a2a" stroke-width="1.0" fill="none" stroke-linejoin="round"/>
<path d="M389.30,175.20 L389.80,175.20 L390.30,175.20 L390.80,175.20 L391.30,175.20 L391.80,175.20 L392.30,175.20 L392.80,175.20 L393.30,175.20 L393.80,175.20 L394.30,175.20 L394.80,175.20 L395.30,175.20 L395.80,175.20 L396.30,175.20 L396.80,175.20 L397.30,175.20 L397.80,175.20 L398.30,175.20 L398.80,175.20 L399.30,175.20 L399.80,175.20 L400.30,175.20 L400.80,175.20 L401.30,175.20 L401.80,175.20 L402.30,175.20 L402.80,175.20 L403.30,175.20 L403.80,175.20 L404.30,175.20 L404.80,175.20 L405.30,175.20 L405.80,175.20 L406.30,175.20 L406.80,175.20 L407.30,175.20 L407.80,175.20 L408.30,175.20 L408.80,175.20 L409.30,175.20 L409.80,175.20 L410.30,175.20 L410.80,175.20 L411.30,175.20 L411.80,175.20 L412.30,175.20 L412.80,175.20 L413.30,175.20 L413.80,175.20 L414.30,175.20 L414.80,175.20 L415.30,175.20 L415.80,175.20 L416.30,175.20 L416.80,175.20 L417.30,175.20 L417.80,175.20 L418.30,175.20 L418.80,175.20 L419.30,175.20 L419.80,175.20 L420.30,175.20 L420.80,175.20 L421.30,175.20 L421.80,175.20 L422.30,175.20 L422.80,175.20 L423.30,175.20 L423.80,175.20 L424.30,175.20 L424.80,175.20 L425.30,175.20 L425.80,175.20 L426.30,175.20 L426.80,175.20 L427.30,175.20 L427.80,175.20 L428.30,175.20 L428.80,175.20 L429.30,175.20 L429.80,175.20 L430.30,175.20 L430.80,175.20 L431.30,175.20 L431.80,175.20 L432.30,175.20 L432.80,175.20 L433.30,175.20 L433.80,175.20 L434.30,175.20 L434.80,175.20 L435.30,175.20 L435.80,175.20 L436.30,175.20 L436.80,175.20 L437.30,175.20 L437.80,175.20 L438.30,175.20 L438.80,175.20 L439.30,175.20 L439.80,175.20 L440.30,175.20 L440.80,175.20 L441.30,175.20 L441.80,175.20 L442.30,175.20 L442.80,175.20 L443.30,175.20 L443.80,175.20 L444.30,175.20 L444.80,175.20 L445.30,175.19 L445.80,175.19 L446.30,175.19 L446.80,175.18 L447.30,175.17 L447.80,175.16 L448.30,175.14 L448.80,175.12 L449.30,175.09 L449.80,175.05 L450.30,174.99 L450.80,174.91 L451.30,174.81 L451.80,174.68 L452.30,174.50 L452.80,174.28 L453.30,173.99 L453.80,173.62 L454.30,173.16 L454.80,172.58 L455.30,171.87 L455.80,171.00 L456.30,169.95 L456.80,168.69 L457.30,167.20 L457.80,165.47 L458.30,163.47 L458.80,161.19 L459.30,158.62 L459.80,155.79 L460.30,152.71 L460.80,149.41 L461.30,145.94 L461.80,142.39 L462.30,138.84 L462.80,135.41 L463.30,132.24 L463.80,129.47 L464.30,127.30 L464.80,125.98 L465.30,126.22 L465.80,127.97 L466.30,130.62 L466.80,133.87 L467.30,137.51 L467.80,141.35 L468.30,145.24 L468.80,149.03 L469.30,152.65 L469.80,156.01 L470.30,159.06 L470.80,161.79 L471.30,164.19 L471.80,166.26 L472.30,168.02 L472.80,169.49 L473.30,170.71 L473.80,171.71 L474.30,172.51 L474.80,173.15 L475.30,173.65 L475.80,174.04 L476.30,174.34 L476.80,174.57 L477.30,174.74 L477.80,174.87 L478.30,174.96 L478.80,175.03 L479.30,175.08 L479.80,175.12 L480.30,175.14 L480.80,175.16 L481.30,175.17 L481.80,175.18" stroke="#222" stroke-width="1.0" fill="none" stroke-dasharray="1.9 1.3"/>
<path d="M42.00,175.20 L42.57,175.21 L43.38,175.24 L44.32,175.27 L45.31,175.28 L46.24,175.26 L47.00,175.20 L47.58,175.11 L48.06,175.00 L48.47,174.86 L48.87,174.67 L49.30,174.42 L49.80,174.10 L50.39,173.68 L51.04,173.17 L51.72,172.59 L52.40,171.99 L53.07,171.38 L53.70,170.80 L54.30,170.26 L54.88,169.73 L55.44,169.19 L55.99,168.64 L56.51,168.05 L57.00,167.40 L57.45,166.65 L57.85,165.80 L58.22,164.91 L58.60,164.04 L58.98,163.25 L59.40,162.60 L59.85,162.14 L60.33,161.84 L60.82,161.62 L61.31,161.41 L61.81,161.13 L62.30,160.70 L62.79,160.09 L63.29,159.36 L63.78,158.56 L64.27,157.74 L64.75,156.97 L65.20,156.30 L65.63,155.74 L66.04,155.23 L66.43,154.78 L66.82,154.34 L67.21,153.93 L67.60,153.50 L68.00,153.07 L68.40,152.64 L68.80,152.22 L69.20,151.82 L69.60,151.44 L70.00,151.10 L70.41,150.77 L70.82,150.46 L71.23,150.17 L71.64,149.92 L72.03,149.72 L72.40,149.60 L72.75,149.55 L73.09,149.55 L73.41,149.61 L73.71,149.72 L74.01,149.88 L74.30,150.10 L74.57,150.36 L74.81,150.67 L75.05,151.03 L75.29,151.45 L75.53,151.94 L75.80,152.50 L76.10,153.16 L76.42,153.92 L76.76,154.75 L77.09,155.61 L77.41,156.47 L77.70,157.30 L77.96,158.09 L78.18,158.86 L78.39,159.64 L78.61,160.43 L78.84,161.24 L79.10,162.10 L79.39,163.02 L79.71,164.00 L80.04,165.00 L80.38,166.00 L80.74,166.98 L81.10,167.90 L81.48,168.79 L81.87,169.66 L82.27,170.51 L82.69,171.31 L83.10,172.05 L83.50,172.70 L83.90,173.27 L84.31,173.76 L84.72,174.19 L85.12,174.56 L85.52,174.86 L85.90,175.10 L85.75,175.25 L84.97,175.31 L84.18,175.30 L84.01,175.26 L85.07,175.22 L88.00,175.20 L93.74,175.21 L101.99,175.21 L111.48,175.21 L120.94,175.20 L129.10,175.20 L134.70,175.20" stroke="#222" stroke-width="1.0" fill="none" stroke-dasharray="1.9 1.3"/>
<path d="M13.20,283.90 L18.75,283.90 L26.80,283.91 L36.16,283.91 L45.61,283.90 L53.96,283.87 L60.00,283.80 L63.53,283.76 L65.46,283.79 L66.29,283.78 L66.51,283.67 L66.62,283.37 L67.10,282.80 L67.84,281.94 L68.42,280.86 L68.89,279.59 L69.28,278.16 L69.63,276.62 L70.00,275.00 L70.36,273.28 L70.67,271.42 L70.95,269.45 L71.21,267.38 L71.45,265.22 L71.70,263.00 L71.94,260.59 L72.17,257.96 L72.39,255.25 L72.60,252.59 L72.81,250.13 L73.00,248.00 L73.18,246.21 L73.36,244.65 L73.52,243.28 L73.68,242.07 L73.84,240.99 L74.00,240.00 L74.17,239.10 L74.33,238.31 L74.50,237.66 L74.67,237.13 L74.83,236.74 L75.00,236.50 L75.16,236.36 L75.33,236.31 L75.49,236.41 L75.65,236.69 L75.82,237.20 L76.00,238.00 L76.19,239.13 L76.38,240.56 L76.58,242.22 L76.79,244.06 L76.99,246.00 L77.20,248.00 L77.41,250.15 L77.64,252.52 L77.86,255.00 L78.09,257.48 L78.30,259.85 L78.50,262.00 L78.68,263.91 L78.84,265.66 L79.00,267.30 L79.16,268.87 L79.32,270.43 L79.50,272.00 L79.69,273.66 L79.88,275.37 L80.07,277.06 L80.29,278.65 L80.53,280.06 L80.80,281.20 L80.88,282.04 L80.71,282.65 L80.56,283.07 L80.71,283.36 L81.44,283.59 L83.00,283.80 L85.86,283.96 L89.89,284.02 L94.49,284.01 L99.06,283.97 L102.99,283.92 L105.70,283.90" stroke="#8c8c8c" stroke-width="1.0" fill="none" stroke-dasharray="0.8 0.8"/>
<path d="M13.20,283.90 L19.50,283.95 L28.68,284.08 L39.33,284.20 L50.03,284.24 L59.39,284.14 L66.00,283.80 L69.57,283.21 L71.16,282.41 L71.41,281.47 L70.94,280.42 L70.39,279.31 L70.40,278.20 L70.82,277.08 L71.11,275.93 L71.33,274.71 L71.51,273.43 L71.68,272.06 L71.90,270.60 L72.15,269.03 L72.40,267.35 L72.65,265.59 L72.90,263.76 L73.15,261.89 L73.40,260.00 L73.65,258.04 L73.90,255.99 L74.15,253.90 L74.40,251.81 L74.65,249.76 L74.90,247.80 L75.14,245.91 L75.38,244.05 L75.62,242.23 L75.86,240.47 L76.12,238.79 L76.40,237.20 L76.71,235.54 L77.04,233.78 L77.38,232.09 L77.73,230.66 L78.07,229.67 L78.40,229.30 L78.71,229.62 L79.02,230.49 L79.33,231.81 L79.62,233.44 L79.91,235.28 L80.20,237.20 L80.48,239.35 L80.75,241.84 L81.02,244.54 L81.28,247.29 L81.54,249.96 L81.80,252.40 L82.05,254.59 L82.28,256.66 L82.51,258.64 L82.74,260.57 L83.00,262.51 L83.30,264.50 L83.64,266.61 L84.01,268.81 L84.41,271.02 L84.81,273.14 L85.21,275.06 L85.60,276.70 L85.96,278.02 L86.30,279.11 L86.64,280.00 L87.00,280.75 L87.38,281.40 L87.80,282.00 L88.14,282.52 L88.37,282.92 L88.62,283.22 L89.04,283.46 L89.79,283.64 L91.00,283.80 L92.95,283.92 L95.59,283.96 L98.55,283.96 L101.46,283.94 L103.97,283.91 L105.70,283.90" stroke="#222" stroke-width="1.0" fill="none" stroke-dasharray="1.9 1.3"/>
<path d="M13.20,277.00 L13.26,275.68 L13.33,273.79 L13.42,271.58 L13.53,269.31 L13.65,267.23 L13.80,265.60 L13.98,264.41 L14.18,263.47 L14.41,262.72 L14.64,262.11 L14.88,261.58 L15.10,261.10 L15.32,260.73 L15.54,260.52 L15.76,260.41 L15.97,260.30 L16.19,260.12 L16.40,259.80 L16.60,259.32 L16.80,258.74 L17.00,258.09 L17.20,257.40 L17.40,256.70 L17.60,256.00 L17.81,255.27 L18.03,254.46 L18.24,253.64 L18.46,252.86 L18.68,252.16 L18.90,251.60 L19.12,251.20 L19.34,250.94 L19.57,250.76 L19.79,250.62 L20.00,250.48 L20.20,250.30 L20.39,250.11 L20.56,249.94 L20.72,249.77 L20.89,249.57 L21.04,249.33 L21.20,249.00 L21.35,248.51 L21.49,247.86 L21.63,247.16 L21.77,246.51 L21.93,246.02 L22.10,245.80 L22.30,245.94 L22.53,246.36 L22.77,246.94 L23.00,247.56 L23.22,248.09 L23.40,248.40 L23.53,248.39 L23.63,248.15 L23.70,247.81 L23.77,247.53 L23.87,247.44 L24.00,247.70 L24.18,248.34 L24.38,249.26 L24.61,250.37 L24.84,251.61 L25.08,252.88 L25.30,254.10 L25.52,255.31 L25.74,256.57 L25.96,257.87 L26.17,259.19 L26.39,260.51 L26.60,261.80 L26.80,263.09 L27.00,264.39 L27.20,265.68 L27.40,266.96 L27.60,268.20 L27.80,269.40 L28.01,270.56 L28.23,271.70 L28.44,272.80 L28.66,273.86 L28.88,274.86 L29.10,275.80 L29.31,276.67 L29.51,277.48 L29.71,278.24 L29.92,278.94 L30.15,279.59 L30.40,280.20 L30.67,280.76 L30.94,281.26 L31.23,281.72 L31.55,282.13 L31.90,282.49 L32.30,282.80 L32.69,283.06 L33.04,283.26 L33.42,283.41 L33.92,283.52 L34.59,283.62 L35.50,283.70 L36.13,283.76 L36.30,283.79 L36.66,283.80 L37.81,283.80 L40.38,283.79 L45.00,283.80 L52.86,283.82 L63.69,283.84 L75.94,283.86 L88.07,283.87 L98.50,283.89 L105.70,283.90" stroke="#6e6e6e" stroke-width="1.05" fill="none" stroke-linejoin="round"/>
<path d="M13.20,283.80 L13.68,283.76 L14.36,283.70 L15.16,283.64 L16.01,283.56 L16.84,283.48 L17.60,283.40 L18.30,283.31 L18.99,283.21 L19.67,283.10 L20.32,282.99 L20.94,282.42 L21.50,282.88 L22.00,282.49 L22.43,282.86 L22.83,282.85 L23.21,281.78 L23.59,281.62 L24.00,283.01 L24.44,281.86 L24.89,281.70 L25.34,282.94 L25.78,281.84 L26.21,282.32 L26.60,281.46 L26.97,281.48 L27.31,280.27 L27.64,280.78 L27.94,280.84 L28.23,279.90 L28.50,280.03 L28.74,279.70 L28.95,278.42 L29.14,279.51 L29.32,279.10 L29.50,278.53 L29.70,278.06 L29.90,279.66 L30.10,279.14 L30.31,279.82 L30.52,280.37 L30.75,280.35 L31.00,280.96 L31.28,280.23 L31.59,281.17 L31.91,280.75 L32.24,281.85 L32.58,281.97 L32.90,280.78 L33.20,281.07 L33.49,281.45 L33.77,283.03 L34.07,282.30 L34.41,282.85 L34.80,282.44 L35.25,282.95 L35.75,283.08 L36.28,283.19 L36.84,283.29 L37.42,283.35 L38.00,283.40 L38.62,283.42 L39.28,283.41 L39.96,283.38 L40.63,283.33 L41.25,283.27 L41.80,283.20 L42.25,283.13 L42.62,283.05 L42.95,282.96 L43.27,282.86 L43.61,282.49 L44.00,282.23 L44.44,282.41 L44.89,282.12 L45.36,282.38 L45.86,281.62 L46.40,281.68 L47.00,281.14 L47.70,280.93 L48.50,279.85 L49.34,278.41 L50.17,279.12 L50.91,278.76 L51.50,278.13 L51.89,276.97 L52.11,276.64 L52.24,275.14 L52.38,275.71 L52.61,274.81 L53.00,274.01 L53.60,273.55 L54.35,275.08 L55.18,275.54 L56.04,274.17 L56.87,275.66 L57.60,275.04 L58.24,274.57 L58.83,274.79 L59.39,275.57 L59.93,275.62 L60.46,273.91 L61.00,274.61 L61.54,273.13 L62.09,273.78 L62.62,272.43 L63.14,272.72 L63.63,272.18 L64.10,270.61 L64.53,270.76 L64.93,268.72 L65.31,267.49 L65.67,267.62 L66.03,265.84 L66.40,265.46 L66.78,265.19 L67.16,264.91 L67.54,263.50 L67.91,262.78 L68.27,263.88 L68.60,262.66 L68.89,263.86 L69.16,264.02 L69.40,263.49 L69.64,264.04 L69.91,264.45 L70.20,264.76 L70.54,264.42 L70.91,263.84 L71.30,263.32 L71.69,263.33 L72.06,262.19 L72.40,262.08 L72.69,263.04 L72.96,262.94 L73.20,264.02 L73.44,266.33 L73.71,266.61 L74.00,267.69 L74.34,267.68 L74.71,269.40 L75.10,270.70 L75.49,270.71 L75.86,272.80 L76.20,273.84 L76.49,273.86 L76.73,275.98 L76.95,276.80 L77.19,278.24 L77.46,278.61 L77.80,280.07 L78.17,280.79 L78.53,280.05 L78.92,280.57 L79.41,282.06 L80.02,282.92 L80.80,281.95 L81.69,282.61 L82.63,282.91 L83.71,283.10 L84.98,283.25 L86.52,283.38 L88.40,283.50 L90.92,283.60 L94.09,283.67 L97.53,283.72 L100.86,283.75 L103.71,283.78 L105.70,283.80" stroke="#000" stroke-width="1.65" fill="none" stroke-linejoin="round"/>
<path d="M129.50,283.90 L136.28,283.91 L146.17,283.94 L157.62,283.97 L169.11,283.98 L179.08,283.96 L186.00,283.90 L189.50,283.91 L190.75,284.03 L190.49,284.11 L189.45,284.03 L188.37,283.64 L188.00,282.80 L188.18,281.44 L188.30,279.67 L188.38,277.58 L188.46,275.30 L188.55,272.94 L188.70,270.60 L188.90,268.14 L189.14,265.44 L189.39,262.66 L189.66,259.96 L189.93,257.48 L190.20,255.40 L190.45,253.62 L190.70,252.01 L190.96,250.63 L191.22,249.55 L191.50,248.85 L191.80,248.60 L192.13,248.99 L192.49,250.00 L192.86,251.39 L193.24,252.91 L193.62,254.33 L194.00,255.40 L194.37,256.08 L194.73,256.57 L195.09,256.94 L195.47,257.31 L195.87,257.76 L196.30,258.40 L196.78,259.17 L197.31,259.98 L197.86,260.87 L198.40,261.90 L198.93,263.09 L199.40,264.50 L199.83,266.25 L200.22,268.34 L200.59,270.60 L200.94,272.86 L201.28,274.95 L201.60,276.70 L201.90,278.13 L202.17,279.37 L202.42,280.44 L202.67,281.36 L202.93,282.14 L203.20,282.80 L203.31,283.29 L203.22,283.58 L203.14,283.73 L203.27,283.80 L203.82,283.84 L205.00,283.90 L207.15,283.96 L210.17,283.98 L213.61,283.97 L217.03,283.94 L219.97,283.91 L222.00,283.90" stroke="#8c8c8c" stroke-width="1.0" fill="none" stroke-dasharray="0.8 0.8"/>
<path d="M129.50,283.90 L136.63,283.95 L147.03,284.06 L159.08,284.16 L171.16,284.21 L181.68,284.14 L189.00,283.90 L192.76,283.50 L194.18,282.99 L194.03,282.37 L193.06,281.62 L192.06,280.73 L191.80,279.70 L192.13,278.48 L192.40,277.09 L192.63,275.55 L192.85,273.93 L193.07,272.26 L193.30,270.60 L193.55,268.94 L193.80,267.24 L194.05,265.49 L194.30,263.71 L194.55,261.88 L194.80,260.00 L195.05,258.04 L195.30,255.99 L195.55,253.90 L195.80,251.81 L196.05,249.76 L196.30,247.80 L196.55,245.89 L196.81,243.99 L197.07,242.14 L197.32,240.36 L197.57,238.71 L197.80,237.20 L198.02,235.71 L198.23,234.17 L198.43,232.75 L198.62,231.61 L198.81,230.90 L199.00,230.80 L199.18,231.40 L199.36,232.60 L199.53,234.24 L199.71,236.16 L199.89,238.20 L200.10,240.20 L200.33,242.27 L200.57,244.56 L200.82,246.97 L201.08,249.40 L201.34,251.75 L201.60,253.90 L201.85,255.83 L202.10,257.60 L202.36,259.29 L202.62,260.96 L202.90,262.68 L203.20,264.50 L203.52,266.52 L203.86,268.70 L204.21,270.93 L204.58,273.09 L204.97,275.05 L205.40,276.70 L205.86,278.02 L206.35,279.10 L206.87,279.99 L207.40,280.74 L207.95,281.39 L208.50,282.00 L208.98,282.54 L209.40,282.96 L209.82,283.28 L210.34,283.53 L211.04,283.73 L212.00,283.90 L213.41,284.01 L215.22,284.04 L217.22,284.02 L219.17,283.97 L220.84,283.92 L222.00,283.90" stroke="#222" stroke-width="1.0" fill="none" stroke-dasharray="1.9 1.3"/>
<path d="M129.30,283.80 L129.34,282.93 L129.39,281.63 L129.45,280.14 L129.52,278.70 L129.61,277.58 L129.70,277.00 L129.80,277.10 L129.89,277.71 L129.99,278.63 L130.12,279.64 L130.29,280.57 L130.50,281.20 L130.75,281.57 L131.01,281.86 L131.32,282.05 L131.67,282.14 L132.10,282.13 L132.60,282.00 L133.21,281.77 L133.92,281.43 L134.69,280.98 L135.50,280.43 L136.32,279.77 L137.10,279.00 L137.88,278.08 L138.69,277.01 L139.49,275.84 L140.28,274.60 L141.02,273.34 L141.70,272.10 L142.29,270.86 L142.81,269.56 L143.29,268.25 L143.75,266.95 L144.21,265.69 L144.70,264.50 L145.22,263.35 L145.77,262.21 L146.32,261.11 L146.85,260.09 L147.35,259.17 L147.80,258.40 L148.18,257.72 L148.50,257.10 L148.78,256.59 L149.06,256.23 L149.36,256.09 L149.70,256.20 L150.10,256.61 L150.53,257.27 L150.97,258.14 L151.43,259.17 L151.88,260.31 L152.30,261.50 L152.70,262.80 L153.09,264.25 L153.47,265.81 L153.84,267.43 L154.22,269.04 L154.60,270.60 L154.99,272.18 L155.40,273.83 L155.80,275.48 L156.19,277.06 L156.56,278.49 L156.90,279.70 L157.17,280.68 L157.38,281.49 L157.57,282.14 L157.77,282.68 L158.04,283.12 L158.40,283.50 L158.23,283.77 L157.36,283.90 L156.54,283.94 L156.54,283.92 L158.11,283.90 L162.00,283.90 L169.43,283.92 L180.04,283.93 L192.22,283.92 L204.36,283.91 L214.82,283.90 L222.00,283.90" stroke="#6e6e6e" stroke-width="1.05" fill="none" stroke-linejoin="round"/>
<path d="M129.50,283.90 L131.26,283.88 L133.78,283.87 L136.72,283.84 L139.74,283.79 L142.52,283.68 L144.70,283.50 L146.28,283.27 L147.52,283.01 L148.51,282.92 L149.33,282.75 L150.07,282.35 L150.80,282.00 L151.49,280.86 L152.06,280.29 L152.54,277.68 L152.97,277.39 L153.38,277.13 L153.80,275.47 L154.23,274.72 L154.65,272.01 L155.04,271.31 L155.42,269.57 L155.77,268.84 L156.10,267.73 L156.40,265.65 L156.66,264.98 L156.89,264.12 L157.12,264.38 L157.35,263.33 L157.60,261.59 L157.85,262.22 L158.10,260.65 L158.36,261.23 L158.62,260.16 L158.90,259.83 L159.20,261.37 L159.52,260.20 L159.86,260.30 L160.21,261.84 L160.58,261.92 L160.97,261.27 L161.40,263.03 L161.87,263.07 L162.37,264.35 L162.90,264.67 L163.44,267.17 L163.98,267.79 L164.50,269.14 L164.99,269.62 L165.45,269.02 L165.91,269.49 L166.39,269.43 L166.91,269.67 L167.50,269.82 L168.19,270.54 L168.98,271.34 L169.81,270.51 L170.63,271.95 L171.41,271.57 L172.10,271.76 L172.68,272.95 L173.19,272.65 L173.64,272.66 L174.08,273.23 L174.52,273.85 L175.00,272.80 L175.51,274.44 L176.02,272.59 L176.54,273.70 L177.07,273.67 L177.59,272.05 L178.10,273.42 L178.61,272.76 L179.13,273.32 L179.65,272.54 L180.16,272.89 L180.64,273.46 L181.10,275.22 L181.52,274.27 L181.92,275.75 L182.29,276.57 L182.66,277.13 L183.02,276.60 L183.40,277.14 L183.76,277.97 L184.09,278.97 L184.41,278.31 L184.77,280.00 L185.19,280.59 L185.70,281.15 L186.23,280.06 L186.75,282.05 L187.33,280.84 L188.05,281.58 L188.98,282.34 L190.20,283.15 L191.70,282.35 L193.41,283.62 L195.34,283.04 L197.48,283.21 L199.83,283.37 L202.40,283.50 L205.50,283.61 L209.20,283.70 L213.11,283.77 L216.86,283.82 L220.05,283.86 L222.30,283.90" stroke="#000" stroke-width="1.65" fill="none" stroke-linejoin="round"/>
<path d="M12.80,376.90 L12.91,376.75 L13.04,376.56 L13.21,376.32 L13.42,376.06 L13.68,375.78 L14.00,375.50 L14.38,375.24 L14.83,375.01 L15.32,374.76 L15.86,374.45 L16.42,374.04 L17.00,373.50 L17.62,372.83 L18.30,372.06 L19.00,371.19 L19.70,370.22 L20.38,369.16 L21.00,368.00 L21.56,366.74 L22.09,365.37 L22.59,363.91 L23.07,362.35 L23.54,360.71 L24.00,359.00 L24.45,357.16 L24.89,355.19 L25.31,353.12 L25.71,351.04 L26.11,348.98 L26.50,347.00 L26.88,345.03 L27.24,343.00 L27.59,341.00 L27.93,339.11 L28.27,337.42 L28.60,336.00 L28.92,334.79 L29.23,333.70 L29.54,332.81 L29.84,332.19 L30.16,331.89 L30.50,332.00 L30.87,332.59 L31.26,333.63 L31.66,335.00 L32.06,336.59 L32.45,338.30 L32.80,340.00 L33.12,341.78 L33.41,343.74 L33.69,345.81 L33.96,347.93 L34.22,350.01 L34.50,352.00 L34.78,353.91 L35.04,355.81 L35.31,357.69 L35.59,359.52 L35.88,361.29 L36.20,363.00 L36.53,364.67 L36.88,366.31 L37.24,367.91 L37.62,369.41 L38.04,370.78 L38.50,372.00 L38.96,373.06 L39.41,373.99 L39.89,374.79 L40.46,375.47 L41.14,376.04 L42.00,376.50 L42.52,376.81 L42.58,376.95 L42.76,376.98 L43.66,376.95 L45.87,376.90 L50.00,376.90 L57.13,376.92 L67.01,376.93 L78.20,376.92 L89.28,376.91 L98.82,376.90 L105.40,376.90" stroke="#8c8c8c" stroke-width="1.0" fill="none" stroke-dasharray="0.8 0.8"/>
<path d="M12.80,376.50 L12.85,376.37 L12.89,376.19 L12.96,375.97 L13.06,375.74 L13.24,375.51 L13.50,375.30 L13.86,375.14 L14.30,375.03 L14.80,374.91 L15.36,374.75 L15.96,374.50 L16.60,374.10 L17.31,373.57 L18.11,372.93 L18.96,372.21 L19.80,371.39 L20.60,370.49 L21.30,369.50 L21.91,368.43 L22.45,367.28 L22.94,366.04 L23.41,364.71 L23.85,363.30 L24.30,361.80 L24.74,360.20 L25.15,358.49 L25.54,356.69 L25.93,354.83 L26.31,352.93 L26.70,351.00 L27.09,348.97 L27.47,346.81 L27.86,344.61 L28.24,342.44 L28.62,340.41 L29.00,338.60 L29.38,336.85 L29.77,335.06 L30.15,333.40 L30.53,332.04 L30.92,331.15 L31.30,330.90 L31.69,331.37 L32.08,332.43 L32.48,333.96 L32.86,335.84 L33.24,337.93 L33.60,340.10 L33.94,342.59 L34.27,345.54 L34.59,348.71 L34.90,351.84 L35.21,354.68 L35.50,357.00 L35.76,358.70 L35.99,359.95 L36.21,360.92 L36.45,361.77 L36.74,362.64 L37.10,363.70 L37.54,364.96 L38.05,366.30 L38.61,367.66 L39.19,369.00 L39.80,370.27 L40.40,371.40 L40.99,372.43 L41.59,373.40 L42.20,374.29 L42.84,375.09 L43.54,375.76 L44.30,376.30 L44.57,376.66 L44.23,376.84 L43.93,376.91 L44.35,376.90 L46.15,376.88 L50.00,376.90 L57.00,376.93 L66.84,376.94 L78.06,376.94 L89.20,376.92 L98.80,376.91 L105.40,376.90" stroke="#2a2a2a" stroke-width="1.0" fill="none" stroke-linejoin="round"/>
<path d="M12.80,376.90 L13.63,376.90 L14.80,376.91 L16.18,376.92 L17.61,376.92 L18.93,376.92 L20.00,376.90 L20.80,376.89 L21.45,376.88 L22.00,376.87 L22.49,376.83 L22.98,376.75 L23.50,376.60 L24.04,376.42 L24.57,376.22 L25.08,375.98 L25.60,375.66 L26.14,375.24 L26.70,374.70 L27.30,373.98 L27.94,373.09 L28.59,372.11 L29.25,371.09 L29.89,370.09 L30.50,369.20 L31.08,368.37 L31.64,367.55 L32.18,366.76 L32.72,366.03 L33.26,365.36 L33.80,364.80 L34.35,364.36 L34.90,364.03 L35.45,363.78 L36.00,363.56 L36.55,363.35 L37.10,363.10 L37.66,362.84 L38.22,362.60 L38.78,362.37 L39.34,362.12 L39.88,361.83 L40.40,361.50 L40.90,361.12 L41.39,360.71 L41.87,360.27 L42.33,359.80 L42.77,359.27 L43.20,358.70 L43.61,358.07 L44.00,357.37 L44.38,356.64 L44.73,355.87 L45.08,355.09 L45.40,354.30 L45.69,353.50 L45.95,352.67 L46.19,351.82 L46.44,350.97 L46.70,350.12 L47.00,349.30 L47.35,348.44 L47.74,347.51 L48.15,346.59 L48.56,345.76 L48.95,345.07 L49.30,344.60 L49.60,344.42 L49.86,344.47 L50.11,344.68 L50.35,344.95 L50.61,345.18 L50.90,345.30 L51.24,345.25 L51.61,345.11 L51.99,344.94 L52.38,344.80 L52.76,344.77 L53.10,344.90 L53.42,345.21 L53.73,345.64 L54.02,346.18 L54.30,346.80 L54.56,347.48 L54.80,348.20 L55.01,348.99 L55.19,349.87 L55.36,350.81 L55.52,351.78 L55.69,352.75 L55.90,353.70 L56.12,354.60 L56.35,355.48 L56.59,356.36 L56.86,357.27 L57.16,358.24 L57.50,359.30 L57.89,360.48 L58.33,361.77 L58.79,363.12 L59.29,364.48 L59.79,365.79 L60.30,367.00 L60.82,368.13 L61.36,369.23 L61.92,370.27 L62.48,371.26 L63.04,372.18 L63.60,373.00 L64.15,373.74 L64.71,374.40 L65.26,374.99 L65.81,375.50 L66.36,375.94 L66.90,376.30 L67.05,376.56 L66.75,376.72 L66.44,376.81 L66.58,376.84 L67.62,376.87 L70.00,376.90 L74.44,376.93 L80.72,376.94 L87.89,376.94 L95.03,376.92 L101.17,376.91 L105.40,376.90" stroke="#222" stroke-width="1.0" fill="none" stroke-dasharray="1.9 1.3"/>
<path d="M129.50,374.00 L129.87,373.70 L130.39,373.30 L131.00,372.81 L131.67,372.26 L132.35,371.65 L133.00,371.00 L133.64,370.34 L134.31,369.67 L135.00,368.94 L135.69,368.11 L136.36,367.15 L137.00,366.00 L137.62,364.66 L138.24,363.15 L138.84,361.50 L139.43,359.74 L139.98,357.90 L140.50,356.00 L140.98,353.97 L141.43,351.78 L141.84,349.50 L142.24,347.22 L142.62,345.03 L143.00,343.00 L143.36,341.07 L143.70,339.15 L144.03,337.31 L144.35,335.63 L144.67,334.17 L145.00,333.00 L145.33,332.11 L145.67,331.44 L146.00,331.00 L146.33,330.78 L146.67,330.78 L147.00,331.00 L147.34,331.46 L147.67,332.15 L148.01,333.06 L148.35,334.19 L148.68,335.50 L149.00,337.00 L149.31,338.76 L149.62,340.81 L149.92,343.06 L150.21,345.41 L150.51,347.75 L150.80,350.00 L151.09,352.20 L151.37,354.44 L151.65,356.69 L151.93,358.89 L152.21,361.01 L152.50,363.00 L152.77,364.92 L153.02,366.80 L153.28,368.59 L153.56,370.26 L153.89,371.74 L154.30,373.00 L154.11,374.00 L153.16,374.78 L152.26,375.38 L152.23,375.83 L153.87,376.19 L158.00,376.50 L165.92,376.70 L177.24,376.76 L190.23,376.72 L203.17,376.63 L214.34,376.54 L222.00,376.50" stroke="#8c8c8c" stroke-width="1.0" fill="none" stroke-dasharray="0.8 0.8"/>
<path d="M129.20,363.30 L129.20,364.45 L129.17,366.14 L129.16,368.10 L129.18,370.02 L129.28,371.62 L129.50,372.60 L129.85,372.89 L130.33,372.72 L130.88,372.22 L131.46,371.54 L132.05,370.82 L132.60,370.20 L133.12,369.68 L133.63,369.13 L134.15,368.54 L134.67,367.90 L135.18,367.19 L135.70,366.40 L136.22,365.55 L136.73,364.65 L137.25,363.69 L137.77,362.64 L138.28,361.48 L138.80,360.20 L139.33,358.79 L139.86,357.26 L140.40,355.63 L140.93,353.90 L141.43,352.09 L141.90,350.20 L142.34,348.13 L142.76,345.84 L143.15,343.46 L143.52,341.13 L143.87,338.97 L144.20,337.10 L144.49,335.50 L144.73,334.06 L144.94,332.78 L145.16,331.69 L145.41,330.79 L145.70,330.10 L146.06,329.60 L146.47,329.27 L146.90,329.13 L147.33,329.21 L147.74,329.53 L148.10,330.10 L148.40,330.98 L148.67,332.16 L148.91,333.58 L149.13,335.16 L149.36,336.86 L149.60,338.60 L149.85,340.44 L150.10,342.45 L150.34,344.56 L150.59,346.73 L150.84,348.89 L151.10,351.00 L151.36,353.09 L151.63,355.22 L151.90,357.34 L152.17,359.43 L152.44,361.42 L152.70,363.30 L152.94,365.10 L153.15,366.86 L153.36,368.53 L153.59,370.08 L153.86,371.45 L154.20,372.60 L154.61,373.49 L155.06,374.14 L155.55,374.62 L156.09,374.99 L156.67,375.29 L157.30,375.60 L157.35,375.88 L156.70,376.09 L156.09,376.24 L156.28,376.34 L158.00,376.43 L162.00,376.50 L169.49,376.55 L180.13,376.57 L192.29,376.56 L204.40,376.53 L214.83,376.51 L222.00,376.50" stroke="#2a2a2a" stroke-width="1.0" fill="none" stroke-linejoin="round"/>
<path d="M129.50,376.50 L132.77,376.51 L137.52,376.52 L143.04,376.53 L148.60,376.54 L153.49,376.53 L157.00,376.50 L158.95,376.49 L159.87,376.51 L160.13,376.51 L160.07,376.46 L160.04,376.30 L160.40,376.00 L161.11,375.55 L161.90,374.98 L162.72,374.31 L163.53,373.54 L164.31,372.70 L165.00,371.80 L165.60,370.84 L166.14,369.81 L166.64,368.71 L167.12,367.52 L167.60,366.22 L168.10,364.80 L168.63,363.17 L169.16,361.31 L169.70,359.34 L170.23,357.39 L170.73,355.57 L171.20,354.00 L171.63,352.75 L172.02,351.74 L172.39,350.86 L172.76,350.00 L173.12,349.05 L173.50,347.90 L173.89,346.52 L174.27,344.98 L174.66,343.35 L175.05,341.70 L175.46,340.09 L175.90,338.60 L176.37,337.06 L176.88,335.40 L177.40,333.78 L177.92,332.38 L178.43,331.36 L178.90,330.90 L179.35,331.08 L179.79,331.77 L180.21,332.84 L180.61,334.18 L180.98,335.64 L181.30,337.10 L181.57,338.62 L181.79,340.30 L181.98,342.12 L182.15,344.02 L182.32,345.96 L182.50,347.90 L182.68,349.90 L182.86,352.00 L183.03,354.14 L183.21,356.27 L183.39,358.31 L183.60,360.20 L183.82,361.97 L184.04,363.69 L184.28,365.31 L184.53,366.84 L184.80,368.24 L185.10,369.50 L185.44,370.61 L185.81,371.60 L186.20,372.46 L186.60,373.20 L187.01,373.85 L187.40,374.40 L187.75,374.82 L188.06,375.09 L188.36,375.25 L188.71,375.36 L189.14,375.46 L189.70,375.60 L190.16,375.78 L190.44,375.96 L190.81,376.13 L191.51,376.28 L192.83,376.41 L195.00,376.50 L198.56,376.55 L203.39,376.57 L208.83,376.56 L214.20,376.53 L218.81,376.51 L222.00,376.50" stroke="#222" stroke-width="1.0" fill="none" stroke-dasharray="1.9 1.3"/>
<line x1="273.4" y1="333.1" x2="380.0" y2="252.1" stroke="#000" stroke-width="1.1"/>
<circle cx="298.30" cy="290.30" r="1.65" fill="none" stroke="#111" stroke-width="0.9"/>
<circle cx="303.30" cy="289.90" r="1.65" fill="none" stroke="#111" stroke-width="0.9"/>
<circle cx="321.00" cy="287.70" r="1.65" fill="none" stroke="#111" stroke-width="0.9"/>
<circle cx="302.00" cy="299.50" r="1.65" fill="none" stroke="#111" stroke-width="0.9"/>
<circle cx="281.50" cy="303.20" r="1.65" fill="none" stroke="#111" stroke-width="0.9"/>
<circle cx="292.80" cy="303.50" r="1.65" fill="none" stroke="#111" stroke-width="0.9"/>
<circle cx="293.10" cy="306.00" r="1.65" fill="none" stroke="#111" stroke-width="0.9"/>
<circle cx="308.80" cy="308.70" r="1.65" fill="none" stroke="#111" stroke-width="0.9"/>
<circle cx="312.10" cy="313.00" r="1.65" fill="none" stroke="#111" stroke-width="0.9"/>
<circle cx="301.70" cy="311.10" r="1.65" fill="none" stroke="#111" stroke-width="0.9"/>
<circle cx="300.50" cy="316.00" r="1.65" fill="none" stroke="#111" stroke-width="0.9"/>
<circle cx="305.20" cy="316.60" r="1.65" fill="none" stroke="#111" stroke-width="0.9"/>
<circle cx="296.10" cy="319.70" r="1.65" fill="none" stroke="#111" stroke-width="0.9"/>
<circle cx="289.20" cy="320.70" r="1.65" fill="none" stroke="#111" stroke-width="0.9"/>
<circle cx="291.70" cy="321.90" r="1.65" fill="none" stroke="#111" stroke-width="0.9"/>
<circle cx="303.60" cy="323.80" r="1.65" fill="none" stroke="#111" stroke-width="0.9"/>
<circle cx="308.80" cy="327.70" r="1.65" fill="none" stroke="#111" stroke-width="0.9"/>
<rect x="307.15" y="293.35" width="3.5" height="3.5" fill="#000"/>
<rect x="291.15" y="329.55" width="3.5" height="3.5" fill="#000"/>
<rect x="279.15" y="340.05" width="3.5" height="3.5" fill="#000"/>
<rect x="280.85" y="339.45" width="3.5" height="3.5" fill="#000"/>
<rect x="341.25" y="277.35" width="3.5" height="3.5" fill="#000"/>
<rect x="368.75" y="256.25" width="3.5" height="3.5" fill="#000"/>
<line x1="413.3" y1="349.0" x2="516.3" y2="256.8" stroke="#000" stroke-width="1.1"/>
<circle cx="457.80" cy="309.80" r="1.65" fill="none" stroke="#111" stroke-width="0.9"/>
<circle cx="435.30" cy="317.70" r="1.65" fill="none" stroke="#111" stroke-width="0.9"/>
<circle cx="440.20" cy="316.90" r="1.65" fill="none" stroke="#111" stroke-width="0.9"/>
<circle cx="429.80" cy="319.70" r="1.65" fill="none" stroke="#111" stroke-width="0.9"/>
<circle cx="426.10" cy="323.40" r="1.65" fill="none" stroke="#111" stroke-width="0.9"/>
<circle cx="428.80" cy="326.30" r="1.65" fill="none" stroke="#111" stroke-width="0.9"/>
<circle cx="429.60" cy="325.40" r="1.65" fill="none" stroke="#111" stroke-width="0.9"/>
<circle cx="438.20" cy="323.40" r="1.65" fill="none" stroke="#111" stroke-width="0.9"/>
<circle cx="441.70" cy="322.00" r="1.65" fill="none" stroke="#111" stroke-width="0.9"/>
<circle cx="445.50" cy="325.70" r="1.65" fill="none" stroke="#111" stroke-width="0.9"/>
<circle cx="445.70" cy="327.50" r="1.65" fill="none" stroke="#111" stroke-width="0.9"/>
<circle cx="418.10" cy="330.90" r="1.65" fill="none" stroke="#111" stroke-width="0.9"/>
<circle cx="437.60" cy="329.80" r="1.65" fill="none" stroke="#111" stroke-width="0.9"/>
<circle cx="436.70" cy="333.20" r="1.65" fill="none" stroke="#111" stroke-width="0.9"/>
<circle cx="448.90" cy="333.60" r="1.65" fill="none" stroke="#111" stroke-width="0.9"/>
<circle cx="440.50" cy="336.70" r="1.65" fill="none" stroke="#111" stroke-width="0.9"/>
<circle cx="445.10" cy="337.60" r="1.65" fill="none" stroke="#111" stroke-width="0.9"/>
<circle cx="432.80" cy="338.60" r="1.65" fill="none" stroke="#111" stroke-width="0.9"/>
<circle cx="440.20" cy="348.20" r="1.65" fill="none" stroke="#111" stroke-width="0.9"/>
<rect x="443.75" y="320.55" width="3.5" height="3.5" fill="#000"/>
<rect x="427.65" y="340.15" width="3.5" height="3.5" fill="#000"/>
<rect x="416.05" y="344.45" width="3.5" height="3.5" fill="#000"/>
<rect x="417.45" y="343.85" width="3.5" height="3.5" fill="#000"/>
<rect x="478.25" y="287.05" width="3.5" height="3.5" fill="#000"/>
<rect x="505.65" y="246.65" width="3.5" height="3.5" fill="#000"/>
</svg></body></html>
